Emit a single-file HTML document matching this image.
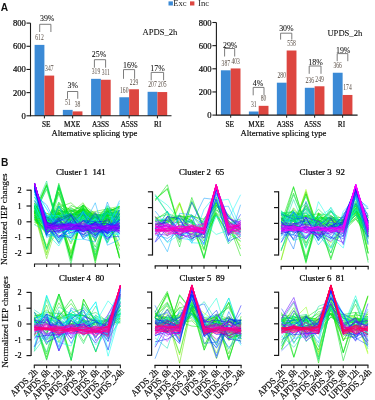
<!DOCTYPE html>
<html><head><meta charset="utf-8"><style>
html,body{margin:0;padding:0;background:#fff;width:375px;height:400px;overflow:hidden;}
svg{display:block;filter:blur(0.3px);font-family:"Liberation Serif", serif;}
</style></head><body>
<svg width="375" height="400" viewBox="0 0 375 400"><text x="0.80" y="11.20" font-size="10.2" text-anchor="start" fill="#111" font-weight="bold" font-family="Liberation Sans" >A</text>
<rect x="168.50" y="1.40" width="4.40" height="4.10" fill="#3b8ad6"/>
<text x="173.20" y="6.10" font-size="8.6" text-anchor="start" fill="#222" font-weight="normal" font-family="Liberation Serif" >Exc</text>
<rect x="190.00" y="1.40" width="4.40" height="4.10" fill="#dd4640"/>
<text x="198.10" y="6.10" font-size="8.6" text-anchor="start" fill="#222" font-weight="normal" font-family="Liberation Serif" >Inc</text>
<line x1="30.50" y1="23.10" x2="30.50" y2="116.30" stroke="#1a1a1a" stroke-width="1.1"/>
<line x1="26.50" y1="115.80" x2="30.50" y2="115.80" stroke="#1a1a1a" stroke-width="1.1"/>
<text x="25.80" y="118.80" font-size="8.6" text-anchor="end" fill="#111" font-weight="normal" font-family="Liberation Serif" stroke="#000" stroke-width="0.22">0</text>
<line x1="26.50" y1="92.62" x2="30.50" y2="92.62" stroke="#1a1a1a" stroke-width="1.1"/>
<text x="25.80" y="95.62" font-size="8.6" text-anchor="end" fill="#111" font-weight="normal" font-family="Liberation Serif" stroke="#000" stroke-width="0.22">200</text>
<line x1="26.50" y1="69.45" x2="30.50" y2="69.45" stroke="#1a1a1a" stroke-width="1.1"/>
<text x="25.80" y="72.45" font-size="8.6" text-anchor="end" fill="#111" font-weight="normal" font-family="Liberation Serif" stroke="#000" stroke-width="0.22">400</text>
<line x1="26.50" y1="46.28" x2="30.50" y2="46.28" stroke="#1a1a1a" stroke-width="1.1"/>
<text x="25.80" y="49.28" font-size="8.6" text-anchor="end" fill="#111" font-weight="normal" font-family="Liberation Serif" stroke="#000" stroke-width="0.22">600</text>
<line x1="26.50" y1="23.10" x2="30.50" y2="23.10" stroke="#1a1a1a" stroke-width="1.1"/>
<text x="25.80" y="26.10" font-size="8.6" text-anchor="end" fill="#111" font-weight="normal" font-family="Liberation Serif" stroke="#000" stroke-width="0.22">800</text>
<rect x="34.60" y="44.88" width="9.80" height="70.92" fill="#3b8ad6"/>
<rect x="44.40" y="75.59" width="9.80" height="40.21" fill="#dd4640"/>
<rect x="62.85" y="109.89" width="9.80" height="5.91" fill="#3b8ad6"/>
<rect x="72.65" y="111.40" width="9.80" height="4.40" fill="#dd4640"/>
<rect x="91.10" y="78.84" width="9.80" height="36.96" fill="#3b8ad6"/>
<rect x="100.90" y="79.76" width="9.80" height="36.04" fill="#dd4640"/>
<rect x="119.35" y="97.26" width="9.80" height="18.54" fill="#3b8ad6"/>
<rect x="129.15" y="89.26" width="9.80" height="26.54" fill="#dd4640"/>
<rect x="147.60" y="91.81" width="9.80" height="23.99" fill="#3b8ad6"/>
<rect x="157.40" y="92.05" width="9.80" height="23.75" fill="#dd4640"/>
<line x1="30.50" y1="115.80" x2="171.50" y2="115.80" stroke="#1a1a1a" stroke-width="1.1"/>
<line x1="44.40" y1="115.80" x2="44.40" y2="118.40" stroke="#1a1a1a" stroke-width="1"/>
<line x1="72.65" y1="115.80" x2="72.65" y2="118.40" stroke="#1a1a1a" stroke-width="1"/>
<line x1="100.90" y1="115.80" x2="100.90" y2="118.40" stroke="#1a1a1a" stroke-width="1"/>
<line x1="129.15" y1="115.80" x2="129.15" y2="118.40" stroke="#1a1a1a" stroke-width="1"/>
<line x1="157.40" y1="115.80" x2="157.40" y2="118.40" stroke="#1a1a1a" stroke-width="1"/>
<text x="46.20" y="127.00" font-size="7.3" text-anchor="middle" fill="#111" font-weight="normal" font-family="Liberation Serif" stroke="#000" stroke-width="0.2">SE</text>
<text x="72.15" y="127.00" font-size="7.3" text-anchor="middle" fill="#111" font-weight="normal" font-family="Liberation Serif" stroke="#000" stroke-width="0.2">MXE</text>
<text x="100.55" y="127.00" font-size="7.3" text-anchor="middle" fill="#111" font-weight="normal" font-family="Liberation Serif" stroke="#000" stroke-width="0.2">A3SS</text>
<text x="129.25" y="127.00" font-size="7.3" text-anchor="middle" fill="#111" font-weight="normal" font-family="Liberation Serif" stroke="#000" stroke-width="0.2">A5SS</text>
<text x="157.70" y="127.00" font-size="7.3" text-anchor="middle" fill="#111" font-weight="normal" font-family="Liberation Serif" stroke="#000" stroke-width="0.2">RI</text>
<text x="94.40" y="135.70" font-size="8.7" text-anchor="middle" fill="#111" font-weight="normal" font-family="Liberation Serif" stroke="#000" stroke-width="0.2">Alternative splicing type</text>
<text x="142.50" y="35.00" font-size="8.6" text-anchor="start" fill="#111" font-weight="normal" font-family="Liberation Serif" stroke="#000" stroke-width="0.08">APDS_2h</text>
<text x="47.20" y="20.80" font-size="7.9" text-anchor="middle" fill="#111" font-weight="normal" font-family="Liberation Serif" stroke="#000" stroke-width="0.06">39%</text>
<text x="72.80" y="88.10" font-size="7.9" text-anchor="middle" fill="#111" font-weight="normal" font-family="Liberation Serif" stroke="#000" stroke-width="0.06">3%</text>
<text x="99.00" y="57.10" font-size="7.9" text-anchor="middle" fill="#111" font-weight="normal" font-family="Liberation Serif" stroke="#000" stroke-width="0.06">25%</text>
<text x="130.30" y="67.50" font-size="7.9" text-anchor="middle" fill="#111" font-weight="normal" font-family="Liberation Serif" stroke="#000" stroke-width="0.06">16%</text>
<text x="157.50" y="70.70" font-size="7.9" text-anchor="middle" fill="#111" font-weight="normal" font-family="Liberation Serif" stroke="#000" stroke-width="0.06">17%</text>
<path d="M39.70,32.00 V24.30 H50.90 V32.00" fill="none" stroke="#666" stroke-width="0.85"/>
<path d="M67.50,98.75 V91.50 H77.75 V98.75" fill="none" stroke="#666" stroke-width="0.85"/>
<path d="M94.40,67.70 V59.70 H105.60 V67.70" fill="none" stroke="#666" stroke-width="0.85"/>
<path d="M123.50,78.80 V69.60 H134.60 V78.80" fill="none" stroke="#666" stroke-width="0.85"/>
<path d="M151.20,80.30 V72.40 H163.60 V80.30" fill="none" stroke="#666" stroke-width="0.85"/>
<text transform="translate(39.50,40.28) scale(0.78,1)" font-size="7.2" text-anchor="middle" fill="#54483f" font-family="Liberation Serif">612</text>
<text transform="translate(49.30,70.99) scale(0.78,1)" font-size="7.2" text-anchor="middle" fill="#54483f" font-family="Liberation Serif">347</text>
<text transform="translate(67.75,105.29) scale(0.78,1)" font-size="7.2" text-anchor="middle" fill="#54483f" font-family="Liberation Serif">51</text>
<text transform="translate(77.55,106.80) scale(0.78,1)" font-size="7.2" text-anchor="middle" fill="#54483f" font-family="Liberation Serif">38</text>
<text transform="translate(96.00,74.24) scale(0.78,1)" font-size="7.2" text-anchor="middle" fill="#54483f" font-family="Liberation Serif">319</text>
<text transform="translate(105.80,75.16) scale(0.78,1)" font-size="7.2" text-anchor="middle" fill="#54483f" font-family="Liberation Serif">311</text>
<text transform="translate(124.25,92.66) scale(0.78,1)" font-size="7.2" text-anchor="middle" fill="#54483f" font-family="Liberation Serif">160</text>
<text transform="translate(134.05,84.66) scale(0.78,1)" font-size="7.2" text-anchor="middle" fill="#54483f" font-family="Liberation Serif">229</text>
<text transform="translate(152.50,87.21) scale(0.78,1)" font-size="7.2" text-anchor="middle" fill="#54483f" font-family="Liberation Serif">207</text>
<text transform="translate(162.30,87.45) scale(0.78,1)" font-size="7.2" text-anchor="middle" fill="#54483f" font-family="Liberation Serif">205</text>
<line x1="216.40" y1="22.50" x2="216.40" y2="115.60" stroke="#1a1a1a" stroke-width="1.1"/>
<line x1="212.40" y1="115.10" x2="216.40" y2="115.10" stroke="#1a1a1a" stroke-width="1.1"/>
<text x="211.60" y="118.10" font-size="8.6" text-anchor="end" fill="#111" font-weight="normal" font-family="Liberation Serif" stroke="#000" stroke-width="0.22">0</text>
<line x1="212.40" y1="91.95" x2="216.40" y2="91.95" stroke="#1a1a1a" stroke-width="1.1"/>
<text x="211.60" y="94.95" font-size="8.6" text-anchor="end" fill="#111" font-weight="normal" font-family="Liberation Serif" stroke="#000" stroke-width="0.22">200</text>
<line x1="212.40" y1="68.80" x2="216.40" y2="68.80" stroke="#1a1a1a" stroke-width="1.1"/>
<text x="211.60" y="71.80" font-size="8.6" text-anchor="end" fill="#111" font-weight="normal" font-family="Liberation Serif" stroke="#000" stroke-width="0.22">400</text>
<line x1="212.40" y1="45.65" x2="216.40" y2="45.65" stroke="#1a1a1a" stroke-width="1.1"/>
<text x="211.60" y="48.65" font-size="8.6" text-anchor="end" fill="#111" font-weight="normal" font-family="Liberation Serif" stroke="#000" stroke-width="0.22">600</text>
<line x1="212.40" y1="22.50" x2="216.40" y2="22.50" stroke="#1a1a1a" stroke-width="1.1"/>
<text x="211.60" y="25.50" font-size="8.6" text-anchor="end" fill="#111" font-weight="normal" font-family="Liberation Serif" stroke="#000" stroke-width="0.22">800</text>
<rect x="220.90" y="70.30" width="9.80" height="44.80" fill="#3b8ad6"/>
<rect x="230.70" y="68.45" width="9.80" height="46.65" fill="#dd4640"/>
<rect x="248.88" y="111.51" width="9.80" height="3.59" fill="#3b8ad6"/>
<rect x="258.68" y="105.84" width="9.80" height="9.26" fill="#dd4640"/>
<rect x="276.86" y="82.69" width="9.80" height="32.41" fill="#3b8ad6"/>
<rect x="286.66" y="50.51" width="9.80" height="64.59" fill="#dd4640"/>
<rect x="304.84" y="87.78" width="9.80" height="27.32" fill="#3b8ad6"/>
<rect x="314.64" y="86.28" width="9.80" height="28.82" fill="#dd4640"/>
<rect x="332.82" y="72.74" width="9.80" height="42.36" fill="#3b8ad6"/>
<rect x="342.62" y="94.96" width="9.80" height="20.14" fill="#dd4640"/>
<line x1="216.40" y1="115.10" x2="357.60" y2="115.10" stroke="#1a1a1a" stroke-width="1.1"/>
<line x1="230.70" y1="115.10" x2="230.70" y2="117.70" stroke="#1a1a1a" stroke-width="1"/>
<line x1="258.68" y1="115.10" x2="258.68" y2="117.70" stroke="#1a1a1a" stroke-width="1"/>
<line x1="286.66" y1="115.10" x2="286.66" y2="117.70" stroke="#1a1a1a" stroke-width="1"/>
<line x1="314.64" y1="115.10" x2="314.64" y2="117.70" stroke="#1a1a1a" stroke-width="1"/>
<line x1="342.62" y1="115.10" x2="342.62" y2="117.70" stroke="#1a1a1a" stroke-width="1"/>
<text x="229.80" y="126.90" font-size="7.3" text-anchor="middle" fill="#111" font-weight="normal" font-family="Liberation Serif" stroke="#000" stroke-width="0.2">SE</text>
<text x="256.48" y="126.90" font-size="7.3" text-anchor="middle" fill="#111" font-weight="normal" font-family="Liberation Serif" stroke="#000" stroke-width="0.2">MXE</text>
<text x="285.16" y="126.90" font-size="7.3" text-anchor="middle" fill="#111" font-weight="normal" font-family="Liberation Serif" stroke="#000" stroke-width="0.2">A3SS</text>
<text x="312.44" y="126.90" font-size="7.3" text-anchor="middle" fill="#111" font-weight="normal" font-family="Liberation Serif" stroke="#000" stroke-width="0.2">A5SS</text>
<text x="341.52" y="126.90" font-size="7.3" text-anchor="middle" fill="#111" font-weight="normal" font-family="Liberation Serif" stroke="#000" stroke-width="0.2">RI</text>
<text x="283.50" y="136.40" font-size="8.7" text-anchor="middle" fill="#111" font-weight="normal" font-family="Liberation Serif" stroke="#000" stroke-width="0.2">Alternative splicing type</text>
<text x="327.40" y="35.50" font-size="8.6" text-anchor="start" fill="#111" font-weight="normal" font-family="Liberation Serif" stroke="#000" stroke-width="0.08">UPDS_2h</text>
<text x="230.20" y="48.00" font-size="7.9" text-anchor="middle" fill="#111" font-weight="normal" font-family="Liberation Serif" stroke="#000" stroke-width="0.06">29%</text>
<text x="258.00" y="86.30" font-size="7.9" text-anchor="middle" fill="#111" font-weight="normal" font-family="Liberation Serif" stroke="#000" stroke-width="0.06">4%</text>
<text x="286.40" y="31.20" font-size="7.9" text-anchor="middle" fill="#111" font-weight="normal" font-family="Liberation Serif" stroke="#000" stroke-width="0.06">30%</text>
<text x="315.50" y="64.80" font-size="7.9" text-anchor="middle" fill="#111" font-weight="normal" font-family="Liberation Serif" stroke="#000" stroke-width="0.06">18%</text>
<text x="343.20" y="52.80" font-size="7.9" text-anchor="middle" fill="#111" font-weight="normal" font-family="Liberation Serif" stroke="#000" stroke-width="0.06">19%</text>
<path d="M224.60,56.50 V48.50 H234.70 V56.50" fill="none" stroke="#666" stroke-width="0.85"/>
<path d="M253.20,95.30 V87.40 H264.00 V95.30" fill="none" stroke="#666" stroke-width="0.85"/>
<path d="M280.60,39.60 V33.20 H291.80 V39.60" fill="none" stroke="#666" stroke-width="0.85"/>
<path d="M309.20,73.80 V66.00 H321.00 V73.80" fill="none" stroke="#666" stroke-width="0.85"/>
<path d="M337.20,61.20 V53.60 H347.80 V61.20" fill="none" stroke="#666" stroke-width="0.85"/>
<text transform="translate(225.80,65.70) scale(0.78,1)" font-size="7.2" text-anchor="middle" fill="#54483f" font-family="Liberation Serif">387</text>
<text transform="translate(235.60,63.85) scale(0.78,1)" font-size="7.2" text-anchor="middle" fill="#54483f" font-family="Liberation Serif">403</text>
<text transform="translate(253.78,106.91) scale(0.78,1)" font-size="7.2" text-anchor="middle" fill="#54483f" font-family="Liberation Serif">31</text>
<text transform="translate(263.58,101.24) scale(0.78,1)" font-size="7.2" text-anchor="middle" fill="#54483f" font-family="Liberation Serif">80</text>
<text transform="translate(281.76,78.09) scale(0.78,1)" font-size="7.2" text-anchor="middle" fill="#54483f" font-family="Liberation Serif">280</text>
<text transform="translate(291.56,45.91) scale(0.78,1)" font-size="7.2" text-anchor="middle" fill="#54483f" font-family="Liberation Serif">558</text>
<text transform="translate(309.74,83.18) scale(0.78,1)" font-size="7.2" text-anchor="middle" fill="#54483f" font-family="Liberation Serif">236</text>
<text transform="translate(319.54,81.68) scale(0.78,1)" font-size="7.2" text-anchor="middle" fill="#54483f" font-family="Liberation Serif">249</text>
<text transform="translate(337.72,68.14) scale(0.78,1)" font-size="7.2" text-anchor="middle" fill="#54483f" font-family="Liberation Serif">366</text>
<text transform="translate(347.52,90.36) scale(0.78,1)" font-size="7.2" text-anchor="middle" fill="#54483f" font-family="Liberation Serif">174</text>
<text x="1.10" y="166.40" font-size="10.2" text-anchor="start" fill="#111" font-weight="bold" font-family="Liberation Sans" >B</text>
<text x="80.80" y="175.20" font-size="8.8" text-anchor="middle" fill="#000" font-weight="normal" font-family="Liberation Serif" stroke="#000" stroke-width="0.22" xml:space="preserve">Cluster 1  141</text>
<line x1="31.10" y1="189.70" x2="31.10" y2="253.90" stroke="#1a1a1a" stroke-width="1.2"/>
<line x1="26.50" y1="190.20" x2="31.10" y2="190.20" stroke="#1a1a1a" stroke-width="1.2"/>
<text x="21.70" y="192.90" font-size="8.2" text-anchor="end" fill="#000" font-weight="normal" font-family="Liberation Serif" stroke="#000" stroke-width="0.2">2</text>
<line x1="26.50" y1="206.00" x2="31.10" y2="206.00" stroke="#1a1a1a" stroke-width="1.2"/>
<text x="21.70" y="208.70" font-size="8.2" text-anchor="end" fill="#000" font-weight="normal" font-family="Liberation Serif" stroke="#000" stroke-width="0.2">1</text>
<line x1="26.50" y1="221.80" x2="31.10" y2="221.80" stroke="#1a1a1a" stroke-width="1.2"/>
<text x="21.70" y="224.50" font-size="8.2" text-anchor="end" fill="#000" font-weight="normal" font-family="Liberation Serif" stroke="#000" stroke-width="0.2">0</text>
<line x1="26.50" y1="237.60" x2="31.10" y2="237.60" stroke="#1a1a1a" stroke-width="1.2"/>
<text x="21.70" y="240.30" font-size="8.2" text-anchor="end" fill="#000" font-weight="normal" font-family="Liberation Serif" stroke="#000" stroke-width="0.2">-1</text>
<line x1="26.50" y1="253.40" x2="31.10" y2="253.40" stroke="#1a1a1a" stroke-width="1.2"/>
<text x="21.70" y="256.10" font-size="8.2" text-anchor="end" fill="#000" font-weight="normal" font-family="Liberation Serif" stroke="#000" stroke-width="0.2">-2</text>
<g>
<polyline points="34.50,212.47 46.65,223.88 58.80,223.08 70.95,217.51 83.10,216.75 95.25,224.76 107.40,220.05 119.55,246.42" fill="none" stroke="#93ff00" stroke-width="0.7" stroke-opacity="0.7"/>
<polyline points="34.50,212.24 46.65,216.31 58.80,209.48 70.95,222.42 83.10,216.16 95.25,228.80 107.40,209.35 119.55,211.21" fill="none" stroke="#91ff00" stroke-width="0.7" stroke-opacity="0.7"/>
<polyline points="34.50,219.31 46.65,218.28 58.80,217.61 70.95,219.34 83.10,212.65 95.25,226.51 107.40,214.98 119.55,207.40" fill="none" stroke="#89ff00" stroke-width="0.7" stroke-opacity="0.7"/>
<polyline points="34.50,216.90 46.65,245.16 58.80,232.97 70.95,226.62 83.10,218.67 95.25,217.79 107.40,222.90 119.55,222.31" fill="none" stroke="#85ff00" stroke-width="0.7" stroke-opacity="0.7"/>
<polyline points="34.50,211.82 46.65,252.79 58.80,212.54 70.95,214.51 83.10,209.82 95.25,222.39 107.40,218.97 119.55,215.40" fill="none" stroke="#81ff00" stroke-width="0.7" stroke-opacity="0.75"/>
<polyline points="34.50,215.49 46.65,217.07 58.80,217.51 70.95,251.41 83.10,218.87 95.25,223.53 107.40,218.84 119.55,215.73" fill="none" stroke="#63e000" stroke-width="0.7" stroke-opacity="0.7"/>
<polyline points="34.50,213.11 46.65,254.94 58.80,210.28 70.95,214.20 83.10,210.73 95.25,214.17 107.40,217.73 119.55,217.56" fill="none" stroke="#5de000" stroke-width="0.7" stroke-opacity="0.75"/>
<polyline points="34.50,213.74 46.65,258.65 58.80,218.22 70.95,213.85 83.10,213.21 95.25,216.87 107.40,223.55 119.55,214.55" fill="none" stroke="#5de000" stroke-width="0.7" stroke-opacity="0.7"/>
<polyline points="34.50,207.05 46.65,217.93 58.80,218.96 70.95,214.89 83.10,214.86 95.25,241.08 107.40,214.41 119.55,228.91" fill="none" stroke="#5ce000" stroke-width="0.7" stroke-opacity="0.7"/>
<polyline points="34.50,216.31 46.65,226.24 58.80,215.73 70.95,217.29 83.10,213.79 95.25,251.81 107.40,211.28 119.55,222.26" fill="none" stroke="#5be000" stroke-width="0.7" stroke-opacity="0.7"/>
<polyline points="34.50,208.34 46.65,218.11 58.80,211.51 70.95,211.04 83.10,215.75 95.25,227.90 107.40,214.22 119.55,217.40" fill="none" stroke="#5be000" stroke-width="0.7" stroke-opacity="0.7"/>
<polyline points="34.50,206.28 46.65,213.39 58.80,215.91 70.95,218.17 83.10,219.95 95.25,224.57 107.40,214.47 119.55,246.08" fill="none" stroke="#47e000" stroke-width="0.7" stroke-opacity="0.7"/>
<polyline points="34.50,218.64 46.65,224.16 58.80,221.91 70.95,212.91 83.10,202.78 95.25,222.88 107.40,208.89 119.55,206.31" fill="none" stroke="#44e000" stroke-width="0.7" stroke-opacity="0.7"/>
<polyline points="34.50,208.81 46.65,213.41 58.80,219.71 70.95,243.96 83.10,217.17 95.25,225.92 107.40,223.40 119.55,216.77" fill="none" stroke="#43e000" stroke-width="0.7" stroke-opacity="0.7"/>
<polyline points="34.50,212.78 46.65,247.91 58.80,202.84 70.95,210.12 83.10,214.27 95.25,217.28 107.40,221.25 119.55,219.66" fill="none" stroke="#40e000" stroke-width="0.7" stroke-opacity="0.7"/>
<polyline points="34.50,217.40 46.65,232.47 58.80,220.86 70.95,216.25 83.10,209.00 95.25,214.42 107.40,218.72 119.55,211.81" fill="none" stroke="#39e000" stroke-width="0.7" stroke-opacity="0.7"/>
<polyline points="34.50,216.75 46.65,223.63 58.80,212.51 70.95,221.35 83.10,208.87 95.25,217.63 107.40,207.92 119.55,212.63" fill="none" stroke="#34e000" stroke-width="0.7" stroke-opacity="0.7"/>
<polyline points="34.50,219.20 46.65,229.81 58.80,192.05 70.95,231.54 83.10,215.00 95.25,223.09 107.40,217.67 119.55,220.16" fill="none" stroke="#2fe000" stroke-width="0.7" stroke-opacity="0.7"/>
<polyline points="34.50,207.69 46.65,225.55 58.80,213.48 70.95,253.35 83.10,208.77 95.25,213.00 107.40,224.60 119.55,219.35" fill="none" stroke="#2ee000" stroke-width="0.7" stroke-opacity="0.7"/>
<polyline points="34.50,206.72 46.65,222.63 58.80,207.45 70.95,202.77 83.10,213.92 95.25,211.53 107.40,208.87 119.55,214.12" fill="none" stroke="#2ce000" stroke-width="0.7" stroke-opacity="0.7"/>
<polyline points="34.50,221.84 46.65,224.85 58.80,220.79 70.95,225.50 83.10,205.01 95.25,213.46 107.40,210.83 119.55,208.41" fill="none" stroke="#29e000" stroke-width="0.7" stroke-opacity="0.7"/>
<polyline points="34.50,211.80 46.65,226.63 58.80,205.55 70.95,214.97 83.10,212.99 95.25,214.33 107.40,216.05 119.55,211.28" fill="none" stroke="#23e000" stroke-width="0.7" stroke-opacity="0.75"/>
<polyline points="34.50,211.76 46.65,227.24 58.80,204.08 70.95,210.64 83.10,211.63 95.25,221.39 107.40,206.09 119.55,213.94" fill="none" stroke="#23e000" stroke-width="0.7" stroke-opacity="0.7"/>
<polyline points="34.50,213.32 46.65,184.95 58.80,227.60 70.95,212.04 83.10,229.18 95.25,219.53 107.40,224.86 119.55,220.27" fill="none" stroke="#22e000" stroke-width="0.7" stroke-opacity="0.75"/>
<polyline points="34.50,219.68 46.65,222.29 58.80,216.27 70.95,216.93 83.10,206.69 95.25,216.85 107.40,213.09 119.55,206.32" fill="none" stroke="#21e000" stroke-width="0.7" stroke-opacity="0.75"/>
<polyline points="34.50,206.28 46.65,222.74 58.80,212.73 70.95,207.53 83.10,214.84 95.25,217.76 107.40,213.92 119.55,258.20" fill="none" stroke="#1fe000" stroke-width="0.7" stroke-opacity="0.75"/>
<polyline points="34.50,208.05 46.65,221.09 58.80,213.90 70.95,254.53 83.10,212.77 95.25,226.06 107.40,210.86 119.55,214.18" fill="none" stroke="#1de000" stroke-width="0.7" stroke-opacity="0.75"/>
<polyline points="34.50,210.22 46.65,248.67 58.80,213.84 70.95,208.61 83.10,214.40 95.25,213.95 107.40,224.34 119.55,218.10" fill="none" stroke="#17e000" stroke-width="0.7" stroke-opacity="0.7"/>
<polyline points="34.50,217.51 46.65,220.10 58.80,219.34 70.95,215.11 83.10,214.71 95.25,217.84 107.40,224.48 119.55,220.39" fill="none" stroke="#17e000" stroke-width="0.7" stroke-opacity="0.7"/>
<polyline points="34.50,216.83 46.65,231.20 58.80,186.66 70.95,223.55 83.10,211.79 95.25,230.52 107.40,219.00 119.55,226.39" fill="none" stroke="#17e000" stroke-width="0.7" stroke-opacity="0.75"/>
<polyline points="34.50,213.64 46.65,221.87 58.80,213.49 70.95,216.28 83.10,208.77 95.25,259.50 107.40,215.10 119.55,217.13" fill="none" stroke="#15e000" stroke-width="0.7" stroke-opacity="0.75"/>
<polyline points="34.50,220.78 46.65,231.97 58.80,188.18 70.95,230.74 83.10,208.59 95.25,231.21 107.40,214.06 119.55,224.96" fill="none" stroke="#14e000" stroke-width="0.7" stroke-opacity="0.7"/>
<polyline points="34.50,218.98 46.65,229.50 58.80,184.86 70.95,222.84 83.10,214.72 95.25,234.79 107.40,217.32 119.55,229.18" fill="none" stroke="#13e000" stroke-width="0.7" stroke-opacity="0.75"/>
<polyline points="34.50,203.36 46.65,226.87 58.80,242.14 70.95,222.78 83.10,231.32 95.25,220.03 107.40,242.84 119.55,213.51" fill="none" stroke="#10e000" stroke-width="0.7" stroke-opacity="0.7"/>
<polyline points="34.50,217.64 46.65,221.18 58.80,218.83 70.95,215.23 83.10,207.66 95.25,221.31 107.40,212.09 119.55,206.42" fill="none" stroke="#0fe000" stroke-width="0.7" stroke-opacity="0.75"/>
<polyline points="34.50,203.53 46.65,230.52 58.80,227.84 70.95,223.40 83.10,217.07 95.25,233.85 107.40,220.07 119.55,219.09" fill="none" stroke="#0ee000" stroke-width="0.7" stroke-opacity="0.7"/>
<polyline points="34.50,211.14 46.65,222.21 58.80,192.39 70.95,224.42 83.10,210.45 95.25,225.25 107.40,221.97 119.55,225.46" fill="none" stroke="#0ce000" stroke-width="0.7" stroke-opacity="0.7"/>
<polyline points="34.50,206.41 46.65,219.84 58.80,219.27 70.95,205.51 83.10,210.23 95.25,221.34 107.40,214.17 119.55,257.93" fill="none" stroke="#0ae000" stroke-width="0.7" stroke-opacity="0.75"/>
<polyline points="34.50,215.39 46.65,221.25 58.80,212.24 70.95,210.75 83.10,206.07 95.25,257.64 107.40,213.72 119.55,218.94" fill="none" stroke="#08e000" stroke-width="0.7" stroke-opacity="0.75"/>
<polyline points="34.50,222.45 46.65,217.51 58.80,216.91 70.95,220.71 83.10,204.53 95.25,219.48 107.40,211.55 119.55,206.80" fill="none" stroke="#08e000" stroke-width="0.7" stroke-opacity="0.75"/>
<polyline points="34.50,207.18 46.65,221.31 58.80,214.15 70.95,210.04 83.10,218.75 95.25,218.54 107.40,216.15 119.55,255.51" fill="none" stroke="#08e000" stroke-width="0.7" stroke-opacity="0.75"/>
<polyline points="34.50,211.62 46.65,185.39 58.80,226.82 70.95,218.81 83.10,226.93 95.25,219.78 107.40,228.28 119.55,221.71" fill="none" stroke="#07e000" stroke-width="0.7" stroke-opacity="0.75"/>
<polyline points="34.50,205.00 46.65,218.90 58.80,217.11 70.95,257.80 83.10,209.61 95.25,218.20 107.40,212.24 119.55,220.19" fill="none" stroke="#05e000" stroke-width="0.7" stroke-opacity="0.75"/>
<polyline points="34.50,224.59 46.65,217.73 58.80,215.50 70.95,215.71 83.10,220.21 95.25,241.41 107.40,207.99 119.55,226.06" fill="none" stroke="#00e000" stroke-width="0.7" stroke-opacity="0.7"/>
<polyline points="34.50,211.16 46.65,219.40 58.80,217.73 70.95,258.12 83.10,211.82 95.25,222.81 107.40,208.87 119.55,220.35" fill="none" stroke="#00e000" stroke-width="0.7" stroke-opacity="0.75"/>
<polyline points="34.50,213.54 46.65,189.37 58.80,227.72 70.95,216.80 83.10,229.45 95.25,220.26 107.40,229.87 119.55,224.04" fill="none" stroke="#00e000" stroke-width="0.7" stroke-opacity="0.75"/>
<polyline points="34.50,216.03 46.65,222.73 58.80,210.04 70.95,215.11 83.10,210.36 95.25,263.21 107.40,212.32 119.55,216.51" fill="none" stroke="#00e001" stroke-width="0.7" stroke-opacity="0.75"/>
<polyline points="34.50,214.17 46.65,186.07 58.80,228.10 70.95,217.71 83.10,223.47 95.25,216.25 107.40,236.13 119.55,226.28" fill="none" stroke="#00e003" stroke-width="0.7" stroke-opacity="0.75"/>
<polyline points="34.50,211.50 46.65,183.51 58.80,227.34 70.95,220.15 83.10,224.39 95.25,217.58 107.40,230.97 119.55,220.42" fill="none" stroke="#00e003" stroke-width="0.7" stroke-opacity="0.75"/>
<polyline points="34.50,203.15 46.65,222.52 58.80,217.76 70.95,211.13 83.10,213.85 95.25,219.21 107.40,213.66 119.55,258.46" fill="none" stroke="#00e005" stroke-width="0.7" stroke-opacity="0.75"/>
<polyline points="34.50,208.88 46.65,229.60 58.80,206.79 70.95,219.72 83.10,204.97 95.25,217.14 107.40,215.63 119.55,210.28" fill="none" stroke="#00e009" stroke-width="0.7" stroke-opacity="0.75"/>
<polyline points="34.50,211.85 46.65,225.80 58.80,208.50 70.95,215.78 83.10,218.71 95.25,219.94 107.40,211.94 119.55,214.98" fill="none" stroke="#00e00c" stroke-width="0.7" stroke-opacity="0.7"/>
<polyline points="34.50,205.14 46.65,217.82 58.80,212.56 70.95,260.79 83.10,205.73 95.25,217.79 107.40,220.70 119.55,213.19" fill="none" stroke="#00e00e" stroke-width="0.7" stroke-opacity="0.7"/>
<polyline points="34.50,216.60 46.65,235.15 58.80,188.29 70.95,222.87 83.10,212.29 95.25,232.80 107.40,217.06 119.55,227.06" fill="none" stroke="#00e00e" stroke-width="0.7" stroke-opacity="0.75"/>
<polyline points="34.50,214.98 46.65,233.82 58.80,183.29 70.95,225.01 83.10,216.86 95.25,232.02 107.40,216.93 119.55,227.47" fill="none" stroke="#00e010" stroke-width="0.7" stroke-opacity="0.75"/>
<polyline points="34.50,205.29 46.65,231.61 58.80,220.20 70.95,214.71 83.10,215.44 95.25,222.63 107.40,217.41 119.55,207.98" fill="none" stroke="#00e011" stroke-width="0.7" stroke-opacity="0.7"/>
<polyline points="34.50,212.12 46.65,217.24 58.80,217.47 70.95,259.34 83.10,209.99 95.25,218.96 107.40,213.28 119.55,219.56" fill="none" stroke="#00e013" stroke-width="0.7" stroke-opacity="0.75"/>
<polyline points="34.50,207.00 46.65,229.89 58.80,205.97 70.95,215.01 83.10,214.38 95.25,215.30 107.40,212.85 119.55,212.86" fill="none" stroke="#00e018" stroke-width="0.7" stroke-opacity="0.75"/>
<polyline points="34.50,219.89 46.65,224.80 58.80,214.25 70.95,219.77 83.10,207.77 95.25,217.79 107.40,211.37 119.55,206.95" fill="none" stroke="#00e019" stroke-width="0.7" stroke-opacity="0.75"/>
<polyline points="34.50,212.69 46.65,222.80 58.80,214.44 70.95,211.31 83.10,210.07 95.25,260.89 107.40,210.34 119.55,220.04" fill="none" stroke="#00e019" stroke-width="0.7" stroke-opacity="0.75"/>
<polyline points="34.50,206.11 46.65,232.29 58.80,210.02 70.95,213.81 83.10,215.55 95.25,215.41 107.40,214.03 119.55,210.19" fill="none" stroke="#00e01c" stroke-width="0.7" stroke-opacity="0.75"/>
<polyline points="34.50,219.68 46.65,230.81 58.80,186.57 70.95,224.40 83.10,212.10 95.25,235.19 107.40,216.46 119.55,225.22" fill="none" stroke="#00e01d" stroke-width="0.7" stroke-opacity="0.75"/>
<polyline points="34.50,205.70 46.65,222.60 58.80,226.96 70.95,225.16 83.10,221.46 95.25,247.08 107.40,215.11 119.55,217.44" fill="none" stroke="#00e01f" stroke-width="0.7" stroke-opacity="0.7"/>
<polyline points="34.50,205.81 46.65,222.74 58.80,212.65 70.95,219.68 83.10,220.51 95.25,222.13 107.40,217.22 119.55,250.24" fill="none" stroke="#00e024" stroke-width="0.7" stroke-opacity="0.7"/>
<polyline points="34.50,207.43 46.65,228.97 58.80,224.66 70.95,220.03 83.10,215.23 95.25,255.60 107.40,211.00 119.55,217.98" fill="none" stroke="#00e032" stroke-width="0.7" stroke-opacity="0.7"/>
<polyline points="34.50,215.39 46.65,218.81 58.80,224.79 70.95,217.80 83.10,217.62 95.25,218.05 107.40,213.51 119.55,218.79" fill="none" stroke="#00e037" stroke-width="0.7" stroke-opacity="0.7"/>
<polyline points="34.50,200.79 46.65,224.04 58.80,216.93 70.95,264.13 83.10,209.71 95.25,218.37 107.40,213.14 119.55,219.97" fill="none" stroke="#00e038" stroke-width="0.7" stroke-opacity="0.7"/>
<polyline points="34.50,208.75 46.65,230.75 58.80,215.08 70.95,216.63 83.10,208.03 95.25,226.20 107.40,215.51 119.55,222.91" fill="none" stroke="#00e03a" stroke-width="0.7" stroke-opacity="0.7"/>
<polyline points="34.50,207.94 46.65,228.33 58.80,215.17 70.95,212.77 83.10,205.19 95.25,254.48 107.40,218.84 119.55,214.15" fill="none" stroke="#00e03a" stroke-width="0.7" stroke-opacity="0.7"/>
<polyline points="34.50,206.30 46.65,235.02 58.80,194.06 70.95,228.48 83.10,220.20 95.25,226.62 107.40,214.03 119.55,222.38" fill="none" stroke="#00e050" stroke-width="0.7" stroke-opacity="0.7"/>
<polyline points="34.50,205.92 46.65,249.07 58.80,209.76 70.95,220.34 83.10,210.86 95.25,218.85 107.40,214.41 119.55,214.89" fill="none" stroke="#00e053" stroke-width="0.7" stroke-opacity="0.7"/>
<polyline points="34.50,210.68 46.65,226.66 58.80,215.67 70.95,224.13 83.10,210.46 95.25,225.84 107.40,209.75 119.55,211.79" fill="none" stroke="#00e057" stroke-width="0.7" stroke-opacity="0.7"/>
<polyline points="34.50,220.10 46.65,225.35 58.80,202.00 70.95,229.38 83.10,215.52 95.25,235.73 107.40,220.81 119.55,228.79" fill="none" stroke="#00e05e" stroke-width="0.7" stroke-opacity="0.7"/>
<polyline points="34.50,190.49 46.65,221.62 58.80,221.34 70.95,213.76 83.10,213.00 95.25,218.00 107.40,219.67 119.55,238.60" fill="none" stroke="#00e062" stroke-width="0.7" stroke-opacity="0.7"/>
<polyline points="34.50,210.45 46.65,225.07 58.80,239.56 70.95,225.76 83.10,236.50 95.25,219.57 107.40,242.22 119.55,216.61" fill="none" stroke="#00e069" stroke-width="0.7" stroke-opacity="0.7"/>
<polyline points="34.50,206.99 46.65,232.94 58.80,222.81 70.95,242.21 83.10,211.21 95.25,216.38 107.40,217.05 119.55,218.35" fill="none" stroke="#00e07e" stroke-width="0.7" stroke-opacity="0.7"/>
<polyline points="34.50,197.03 46.65,220.78 58.80,207.83 70.95,217.70 83.10,212.89 95.25,221.92 107.40,213.75 119.55,213.51" fill="none" stroke="#00e081" stroke-width="0.7" stroke-opacity="0.7"/>
<polyline points="34.50,209.42 46.65,181.04 58.80,231.91 70.95,224.34 83.10,235.32 95.25,226.77 107.40,232.63 119.55,217.33" fill="none" stroke="#00e087" stroke-width="0.7" stroke-opacity="0.7"/>
<polyline points="34.50,207.22 46.65,249.93 58.80,219.67 70.95,216.74 83.10,219.17 95.25,215.67 107.40,213.53 119.55,214.87" fill="none" stroke="#00e092" stroke-width="0.7" stroke-opacity="0.7"/>
<polyline points="34.50,212.66 46.65,221.87 58.80,221.17 70.95,217.54 83.10,224.52 95.25,219.93 107.40,217.58 119.55,220.89" fill="none" stroke="#00e093" stroke-width="0.7" stroke-opacity="0.7"/>
<polyline points="34.50,224.76 46.65,231.16 58.80,185.12 70.95,230.88 83.10,216.05 95.25,235.40 107.40,217.79 119.55,222.22" fill="none" stroke="#00e094" stroke-width="0.7" stroke-opacity="0.7"/>
<polyline points="34.50,218.58 46.65,216.01 58.80,215.67 70.95,224.03 83.10,219.68 95.25,239.51 107.40,207.55 119.55,218.33" fill="none" stroke="#00e099" stroke-width="0.7" stroke-opacity="0.7"/>
<polyline points="34.50,218.55 46.65,186.72 58.80,227.11 70.95,220.11 83.10,228.54 95.25,218.23 107.40,233.46 119.55,225.95" fill="none" stroke="#00e0a0" stroke-width="0.7" stroke-opacity="0.7"/>
<polyline points="34.50,197.26 46.65,215.31 58.80,222.89 70.95,208.30 83.10,229.88 95.25,249.99 107.40,221.23 119.55,229.53" fill="none" stroke="#00e0ba" stroke-width="0.7" stroke-opacity="0.7"/>
<polyline points="34.50,204.44 46.65,233.00 58.80,246.03 70.95,223.87 83.10,227.33 95.25,218.30 107.40,232.59 119.55,213.58" fill="none" stroke="#00ffd6" stroke-width="0.7" stroke-opacity="0.75"/>
<polyline points="34.50,193.97 46.65,227.26 58.80,205.86 70.95,239.20 83.10,216.93 95.25,233.33 107.40,236.92 119.55,220.93" fill="none" stroke="#00ffd7" stroke-width="0.7" stroke-opacity="0.7"/>
<polyline points="34.50,191.40 46.65,226.28 58.80,223.76 70.95,234.58 83.10,227.22 95.25,226.42 107.40,205.27 119.55,239.47" fill="none" stroke="#00ffda" stroke-width="0.7" stroke-opacity="0.7"/>
<polyline points="34.50,204.70 46.65,228.12 58.80,241.27 70.95,222.53 83.10,231.10 95.25,219.01 107.40,235.58 119.55,215.56" fill="none" stroke="#00ffe0" stroke-width="0.7" stroke-opacity="0.75"/>
<polyline points="34.50,192.11 46.65,216.23 58.80,215.53 70.95,236.36 83.10,211.39 95.25,232.42 107.40,236.61 119.55,233.76" fill="none" stroke="#00ffef" stroke-width="0.7" stroke-opacity="0.7"/>
<polyline points="34.50,196.68 46.65,214.42 58.80,226.22 70.95,239.41 83.10,239.33 95.25,227.63 107.40,227.76 119.55,202.95" fill="none" stroke="#00fffc" stroke-width="0.7" stroke-opacity="0.7"/>
<polyline points="34.50,188.82 46.65,209.31 58.80,222.27 70.95,233.72 83.10,230.92 95.25,222.18 107.40,233.09 119.55,234.08" fill="none" stroke="#00fcff" stroke-width="0.7" stroke-opacity="0.7"/>
<polyline points="34.50,191.24 46.65,208.55 58.80,233.69 70.95,225.79 83.10,225.36 95.25,224.16 107.40,243.31 119.55,222.30" fill="none" stroke="#00f4ff" stroke-width="0.7" stroke-opacity="0.7"/>
<polyline points="34.50,184.08 46.65,224.47 58.80,232.57 70.95,230.44 83.10,231.12 95.25,224.27 107.40,227.38 119.55,220.07" fill="none" stroke="#00edff" stroke-width="0.7" stroke-opacity="0.7"/>
<polyline points="34.50,188.03 46.65,233.77 58.80,237.63 70.95,229.22 83.10,211.69 95.25,225.14 107.40,228.36 119.55,220.56" fill="none" stroke="#00e2ff" stroke-width="0.7" stroke-opacity="0.7"/>
<polyline points="34.50,192.09 46.65,219.11 58.80,238.38 70.95,235.37 83.10,229.42 95.25,219.21 107.40,233.25 119.55,207.57" fill="none" stroke="#00d4ff" stroke-width="0.7" stroke-opacity="0.7"/>
<polyline points="34.50,185.36 46.65,233.82 58.80,222.61 70.95,230.81 83.10,225.13 95.25,226.40 107.40,233.47 119.55,216.81" fill="none" stroke="#00c4ff" stroke-width="0.7" stroke-opacity="0.7"/>
<polyline points="34.50,189.62 46.65,230.82 58.80,216.12 70.95,213.64 83.10,238.83 95.25,224.53 107.40,236.96 119.55,223.88" fill="none" stroke="#00bbff" stroke-width="0.7" stroke-opacity="0.7"/>
<polyline points="34.50,201.52 46.65,223.40 58.80,243.88 70.95,224.42 83.10,213.67 95.25,238.44 107.40,228.51 119.55,200.57" fill="none" stroke="#00b6ff" stroke-width="0.7" stroke-opacity="0.7"/>
<polyline points="34.50,188.28 46.65,226.24 58.80,231.17 70.95,218.77 83.10,238.51 95.25,230.91 107.40,211.88 119.55,228.63" fill="none" stroke="#00b2ff" stroke-width="0.7" stroke-opacity="0.7"/>
<polyline points="34.50,186.46 46.65,216.07 58.80,222.23 70.95,229.06 83.10,234.82 95.25,236.95 107.40,224.34 119.55,224.48" fill="none" stroke="#00b0ff" stroke-width="0.7" stroke-opacity="0.7"/>
<polyline points="34.50,199.77 46.65,219.66 58.80,218.66 70.95,222.38 83.10,226.37 95.25,202.77 107.40,245.23 119.55,239.55" fill="none" stroke="#00acff" stroke-width="0.7" stroke-opacity="0.7"/>
<polyline points="34.50,189.89 46.65,226.97 58.80,239.85 70.95,224.18 83.10,219.21 95.25,233.66 107.40,230.78 119.55,209.84" fill="none" stroke="#00a7ff" stroke-width="0.7" stroke-opacity="0.7"/>
<polyline points="34.50,200.39 46.65,217.72 58.80,221.36 70.95,217.38 83.10,239.03 95.25,242.06 107.40,202.10 119.55,234.35" fill="none" stroke="#0096ff" stroke-width="0.7" stroke-opacity="0.7"/>
<polyline points="34.50,187.88 46.65,237.51 58.80,231.76 70.95,227.40 83.10,213.41 95.25,223.00 107.40,233.77 119.55,219.67" fill="none" stroke="#0095ff" stroke-width="0.7" stroke-opacity="0.7"/>
<polyline points="34.50,194.55 46.65,204.99 58.80,228.50 70.95,238.21 83.10,226.44 95.25,216.25 107.40,240.39 119.55,225.05" fill="none" stroke="#0086ff" stroke-width="0.7" stroke-opacity="0.7"/>
<polyline points="34.50,189.82 46.65,236.27 58.80,206.00 70.95,228.32 83.10,227.90 95.25,223.66 107.40,229.57 119.55,232.85" fill="none" stroke="#0084ff" stroke-width="0.7" stroke-opacity="0.7"/>
<polyline points="34.50,184.85 46.65,218.07 58.80,227.87 70.95,229.68 83.10,220.39 95.25,231.27 107.40,232.49 119.55,229.76" fill="none" stroke="#0075ff" stroke-width="0.7" stroke-opacity="0.7"/>
<polyline points="34.50,185.93 46.65,217.34 58.80,225.80 70.95,221.84 83.10,231.18 95.25,227.17 107.40,238.76 119.55,226.37" fill="none" stroke="#0073ff" stroke-width="0.7" stroke-opacity="0.7"/>
<polyline points="34.50,188.03 46.65,236.14 58.80,229.00 70.95,221.39 83.10,211.60 95.25,235.72 107.40,223.87 119.55,228.65" fill="none" stroke="#0063ff" stroke-width="0.7" stroke-opacity="0.7"/>
<polyline points="34.50,190.54 46.65,229.29 58.80,237.19 70.95,232.38 83.10,228.94 95.25,213.86 107.40,232.29 119.55,209.90" fill="none" stroke="#004bff" stroke-width="0.7" stroke-opacity="0.7"/>
<polyline points="34.50,190.04 46.65,223.31 58.80,242.65 70.95,224.99 83.10,227.50 95.25,212.33 107.40,234.52 119.55,219.05" fill="none" stroke="#0045ff" stroke-width="0.7" stroke-opacity="0.7"/>
<polyline points="34.50,186.32 46.65,221.19 58.80,238.04 70.95,220.81 83.10,226.24 95.25,235.55 107.40,225.48 119.55,220.76" fill="none" stroke="#003cff" stroke-width="0.7" stroke-opacity="0.7"/>
<polyline points="34.50,184.30 46.65,225.73 58.80,224.89 70.95,225.76 83.10,225.64 95.25,238.02 107.40,224.08 119.55,225.99" fill="none" stroke="#002eff" stroke-width="0.7" stroke-opacity="0.7"/>
<polyline points="34.50,188.15 46.65,229.86 58.80,218.77 70.95,213.87 83.10,226.82 95.25,223.32 107.40,237.40 119.55,236.21" fill="none" stroke="#0029ff" stroke-width="0.7" stroke-opacity="0.7"/>
<polyline points="34.50,188.48 46.65,223.28 58.80,235.40 70.95,237.74 83.10,220.44 95.25,221.82 107.40,233.29 119.55,213.95" fill="none" stroke="#0023ff" stroke-width="0.7" stroke-opacity="0.7"/>
<polyline points="34.50,187.60 46.65,227.64 58.80,221.13 70.95,215.15 83.10,234.75 95.25,222.33 107.40,239.40 119.55,226.41" fill="none" stroke="#0008ff" stroke-width="0.7" stroke-opacity="0.7"/>
<polyline points="34.50,185.27 46.65,221.50 58.80,236.63 70.95,228.56 83.10,221.10 95.25,224.71 107.40,223.13 119.55,233.50" fill="none" stroke="#0300ff" stroke-width="0.7" stroke-opacity="0.7"/>
<polyline points="34.50,185.46 46.65,234.61 58.80,218.95 70.95,233.14 83.10,228.74 95.25,222.04 107.40,220.89 119.55,230.58" fill="none" stroke="#1900ff" stroke-width="0.7" stroke-opacity="0.7"/>
<polyline points="34.50,185.30 46.65,231.88 58.80,231.37 70.95,215.54 83.10,232.06 95.25,222.22 107.40,228.20 119.55,227.84" fill="none" stroke="#2200ff" stroke-width="0.7" stroke-opacity="0.7"/>
<polyline points="34.50,183.14 46.65,226.62 58.80,228.55 70.95,223.87 83.10,232.06 95.25,226.99 107.40,225.61 119.55,227.55" fill="none" stroke="#2700ff" stroke-width="0.7" stroke-opacity="0.7"/>
<polyline points="34.50,183.68 46.65,227.06 58.80,220.66 70.95,229.24 83.10,231.17 95.25,228.84 107.40,230.14 119.55,223.61" fill="none" stroke="#2800ff" stroke-width="0.7" stroke-opacity="0.7"/>
<polyline points="34.50,185.39 46.65,222.52 58.80,226.15 70.95,222.76 83.10,236.82 95.25,230.70 107.40,218.87 119.55,231.20" fill="none" stroke="#2d00ff" stroke-width="0.7" stroke-opacity="0.7"/>
<polyline points="34.50,185.07 46.65,228.81 58.80,217.53 70.95,225.81 83.10,226.42 95.25,235.99 107.40,223.50 119.55,231.26" fill="none" stroke="#3500ff" stroke-width="0.7" stroke-opacity="0.7"/>
<polyline points="34.50,183.61 46.65,222.39 58.80,227.14 70.95,229.72 83.10,226.66 95.25,224.12 107.40,233.60 119.55,227.17" fill="none" stroke="#3600ff" stroke-width="0.7" stroke-opacity="0.7"/>
<polyline points="34.50,183.78 46.65,223.06 58.80,223.24 70.95,226.75 83.10,234.45 95.25,229.47 107.40,225.27 119.55,228.38" fill="none" stroke="#4100ff" stroke-width="0.7" stroke-opacity="0.7"/>
<polyline points="34.50,182.94 46.65,227.64 58.80,225.90 70.95,224.66 83.10,226.53 95.25,228.12 107.40,227.96 119.55,230.65" fill="none" stroke="#4200ff" stroke-width="0.7" stroke-opacity="0.7"/>
<polyline points="34.50,183.94 46.65,227.49 58.80,224.43 70.95,224.95 83.10,229.40 95.25,231.60 107.40,232.25 119.55,220.34" fill="none" stroke="#4800ff" stroke-width="0.7" stroke-opacity="0.7"/>
<polyline points="34.50,183.19 46.65,224.93 58.80,226.17 70.95,228.56 83.10,223.77 95.25,230.36 107.40,230.91 119.55,226.52" fill="none" stroke="#5900ff" stroke-width="0.7" stroke-opacity="0.8"/>
<polyline points="34.50,183.50 46.65,222.32 58.80,230.17 70.95,228.57 83.10,227.76 95.25,231.29 107.40,227.97 119.55,222.82" fill="none" stroke="#5b00ff" stroke-width="0.7" stroke-opacity="0.8"/>
<polyline points="34.50,183.08 46.65,226.13 58.80,230.94 70.95,223.18 83.10,226.67 95.25,228.06 107.40,227.77 119.55,228.57" fill="none" stroke="#6200ff" stroke-width="0.7" stroke-opacity="0.8"/>
<polyline points="34.50,183.12 46.65,226.01 58.80,226.35 70.95,226.43 83.10,229.78 95.25,227.94 107.40,231.10 119.55,223.67" fill="none" stroke="#6d00ff" stroke-width="0.7" stroke-opacity="0.8"/>
<polyline points="34.50,183.11 46.65,227.61 58.80,232.64 70.95,226.87 83.10,225.70 95.25,225.59 107.40,227.14 119.55,225.75" fill="none" stroke="#7400ff" stroke-width="0.7" stroke-opacity="0.8"/>
<polyline points="34.50,183.52 46.65,226.47 58.80,223.94 70.95,224.39 83.10,231.13 95.25,223.82 107.40,229.13 119.55,232.00" fill="none" stroke="#7500ff" stroke-width="0.7" stroke-opacity="0.8"/>
<polyline points="34.50,183.24 46.65,225.37 58.80,231.12 70.95,228.43 83.10,227.23 95.25,225.26 107.40,230.34 119.55,223.42" fill="none" stroke="#7c00ff" stroke-width="0.7" stroke-opacity="0.8"/>
<polyline points="34.50,183.04 46.65,226.05 58.80,228.38 70.95,229.22 83.10,230.26 95.25,223.49 107.40,226.62 119.55,227.34" fill="none" stroke="#8a00ff" stroke-width="0.7" stroke-opacity="0.8"/>
<polyline points="34.50,183.09 46.65,229.67 58.80,225.73 70.95,228.19 83.10,228.36 95.25,228.28 107.40,228.51 119.55,222.57" fill="none" stroke="#8e00ff" stroke-width="0.7" stroke-opacity="0.8"/>
<polyline points="34.50,183.19 46.65,232.43 58.80,226.13 70.95,224.56 83.10,225.19 95.25,226.17 107.40,227.98 119.55,228.75" fill="none" stroke="#9400ff" stroke-width="0.7" stroke-opacity="0.8"/>
<polyline points="34.50,183.04 46.65,227.08 58.80,228.34 70.95,223.73 83.10,230.33 95.25,227.68 107.40,228.97 119.55,225.23" fill="none" stroke="#9700ff" stroke-width="0.7" stroke-opacity="0.8"/>
<polyline points="34.50,183.07 46.65,223.56 58.80,227.04 70.95,228.77 83.10,227.03 95.25,227.92 107.40,225.87 119.55,231.13" fill="none" stroke="#9c00ff" stroke-width="0.7" stroke-opacity="0.8"/>
<polyline points="34.50,183.14 46.65,225.93 58.80,228.72 70.95,226.08 83.10,223.16 95.25,227.05 107.40,230.29 119.55,230.04" fill="none" stroke="#ac00ff" stroke-width="0.7" stroke-opacity="0.8"/>
<polyline points="34.50,183.55 46.65,228.96 58.80,228.59 70.95,225.55 83.10,221.73 95.25,233.05 107.40,225.42 119.55,227.55" fill="none" stroke="#af00ff" stroke-width="0.7" stroke-opacity="0.8"/>
</g>
<line x1="34.00" y1="264.00" x2="120.05" y2="264.00" stroke="#1a1a1a" stroke-width="1.2"/>
<line x1="34.50" y1="264.00" x2="34.50" y2="267.00" stroke="#1a1a1a" stroke-width="1.1"/>
<line x1="46.65" y1="264.00" x2="46.65" y2="267.00" stroke="#1a1a1a" stroke-width="1.1"/>
<line x1="58.80" y1="264.00" x2="58.80" y2="267.00" stroke="#1a1a1a" stroke-width="1.1"/>
<line x1="70.95" y1="264.00" x2="70.95" y2="267.00" stroke="#1a1a1a" stroke-width="1.1"/>
<line x1="83.10" y1="264.00" x2="83.10" y2="267.00" stroke="#1a1a1a" stroke-width="1.1"/>
<line x1="95.25" y1="264.00" x2="95.25" y2="267.00" stroke="#1a1a1a" stroke-width="1.1"/>
<line x1="107.40" y1="264.00" x2="107.40" y2="267.00" stroke="#1a1a1a" stroke-width="1.1"/>
<line x1="119.55" y1="264.00" x2="119.55" y2="267.00" stroke="#1a1a1a" stroke-width="1.1"/>
<text x="201.60" y="175.20" font-size="8.8" text-anchor="middle" fill="#000" font-weight="normal" font-family="Liberation Serif" stroke="#000" stroke-width="0.22" xml:space="preserve">Cluster 2  65</text>
<line x1="152.50" y1="191.30" x2="152.50" y2="255.50" stroke="#1a1a1a" stroke-width="1.2"/>
<line x1="147.90" y1="191.80" x2="152.50" y2="191.80" stroke="#1a1a1a" stroke-width="1.2"/>
<line x1="147.90" y1="207.60" x2="152.50" y2="207.60" stroke="#1a1a1a" stroke-width="1.2"/>
<line x1="147.90" y1="223.40" x2="152.50" y2="223.40" stroke="#1a1a1a" stroke-width="1.2"/>
<line x1="147.90" y1="239.20" x2="152.50" y2="239.20" stroke="#1a1a1a" stroke-width="1.2"/>
<line x1="147.90" y1="255.00" x2="152.50" y2="255.00" stroke="#1a1a1a" stroke-width="1.2"/>
<g>
<polyline points="155.20,220.96 167.40,230.66 179.60,203.27 191.80,234.05 204.00,223.09 216.20,205.04 228.40,226.43 240.60,238.70" fill="none" stroke="#9cff00" stroke-width="0.7" stroke-opacity="0.75"/>
<polyline points="155.20,227.99 167.40,220.20 179.60,221.47 191.80,214.98 204.00,228.55 216.20,197.03 228.40,228.41 240.60,245.97" fill="none" stroke="#93ff00" stroke-width="0.7" stroke-opacity="0.7"/>
<polyline points="155.20,217.91 167.40,221.36 179.60,215.89 191.80,231.05 204.00,250.68 216.20,196.84 228.40,220.87 240.60,233.17" fill="none" stroke="#8fff00" stroke-width="0.7" stroke-opacity="0.7"/>
<polyline points="155.20,217.48 167.40,224.50 179.60,202.38 191.80,237.04 204.00,222.82 216.20,203.33 228.40,229.95 240.60,241.76" fill="none" stroke="#84ff00" stroke-width="0.7" stroke-opacity="0.75"/>
<polyline points="155.20,216.34 167.40,235.89 179.60,203.88 191.80,240.34 204.00,218.56 216.20,202.72 228.40,233.08 240.60,241.14" fill="none" stroke="#54e000" stroke-width="0.7" stroke-opacity="0.7"/>
<polyline points="155.20,220.26 167.40,220.42 179.60,215.95 191.80,220.42 204.00,257.97 216.20,206.54 228.40,214.47 240.60,228.88" fill="none" stroke="#22e000" stroke-width="0.7" stroke-opacity="0.75"/>
<polyline points="155.20,225.38 167.40,216.85 179.60,220.24 191.80,215.14 204.00,222.22 216.20,204.97 228.40,223.29 240.60,256.03" fill="none" stroke="#15e000" stroke-width="0.7" stroke-opacity="0.75"/>
<polyline points="155.20,199.25 167.40,188.30 179.60,229.12 191.80,226.03 204.00,234.93 216.20,212.79 228.40,233.65 240.60,227.89" fill="none" stroke="#10e000" stroke-width="0.7" stroke-opacity="0.75"/>
<polyline points="155.20,199.40 167.40,189.17 179.60,226.15 191.80,219.79 204.00,238.42 216.20,214.53 228.40,235.28 240.60,227.86" fill="none" stroke="#02e000" stroke-width="0.7" stroke-opacity="0.75"/>
<polyline points="155.20,225.01 167.40,222.19 179.60,222.38 191.80,216.12 204.00,219.29 216.20,202.29 228.40,221.87 240.60,249.18" fill="none" stroke="#00e004" stroke-width="0.7" stroke-opacity="0.75"/>
<polyline points="155.20,220.03 167.40,211.55 179.60,239.89 191.80,197.47 204.00,230.38 216.20,212.59 228.40,225.02 240.60,231.77" fill="none" stroke="#00e007" stroke-width="0.7" stroke-opacity="0.75"/>
<polyline points="155.20,201.01 167.40,184.74 179.60,228.88 191.80,221.02 204.00,241.08 216.20,214.42 228.40,233.12 240.60,228.43" fill="none" stroke="#00e00d" stroke-width="0.7" stroke-opacity="0.75"/>
<polyline points="155.20,217.94 167.40,214.48 179.60,242.38 191.80,202.56 204.00,227.05 216.20,208.31 228.40,229.92 240.60,230.94" fill="none" stroke="#00e019" stroke-width="0.7" stroke-opacity="0.75"/>
<polyline points="155.20,225.17 167.40,221.74 179.60,216.96 191.80,216.10 204.00,249.60 216.20,200.40 228.40,223.40 240.60,218.91" fill="none" stroke="#00e020" stroke-width="0.7" stroke-opacity="0.7"/>
<polyline points="155.20,224.57 167.40,218.91 179.60,215.54 191.80,222.77 204.00,258.63 216.20,210.21 228.40,215.82 240.60,229.55" fill="none" stroke="#00e020" stroke-width="0.7" stroke-opacity="0.75"/>
<polyline points="155.20,220.90 167.40,220.29 179.60,214.97 191.80,220.49 204.00,256.80 216.20,204.76 228.40,220.81 240.60,229.27" fill="none" stroke="#00e024" stroke-width="0.7" stroke-opacity="0.75"/>
<polyline points="155.20,231.16 167.40,211.35 179.60,246.97 191.80,200.65 204.00,225.88 216.20,202.31 228.40,226.24 240.60,236.67" fill="none" stroke="#00e027" stroke-width="0.7" stroke-opacity="0.7"/>
<polyline points="155.20,225.07 167.40,221.85 179.60,218.11 191.80,222.37 204.00,248.58 216.20,203.37 228.40,216.45 240.60,229.18" fill="none" stroke="#00e03c" stroke-width="0.7" stroke-opacity="0.7"/>
<polyline points="155.20,194.46 167.40,212.64 179.60,222.72 191.80,221.10 204.00,230.40 216.20,214.66 228.40,243.87 240.60,230.75" fill="none" stroke="#00e074" stroke-width="0.7" stroke-opacity="0.75"/>
<polyline points="155.20,195.67 167.40,213.10 179.60,218.43 191.80,223.29 204.00,229.91 216.20,215.60 228.40,239.59 240.60,231.16" fill="none" stroke="#00e0ad" stroke-width="0.7" stroke-opacity="0.75"/>
<polyline points="155.20,196.25 167.40,205.14 179.60,219.68 191.80,237.13 204.00,223.45 216.20,234.47 228.40,230.17 240.60,240.90" fill="none" stroke="#00ffd9" stroke-width="0.7" stroke-opacity="0.7"/>
<polyline points="155.20,228.83 167.40,242.72 179.60,234.50 191.80,233.36 204.00,219.46 216.20,201.04 228.40,199.22 240.60,228.07" fill="none" stroke="#00ffe8" stroke-width="0.7" stroke-opacity="0.7"/>
<polyline points="155.20,219.87 167.40,219.40 179.60,231.23 191.80,242.76 204.00,243.34 216.20,216.76 228.40,219.12 240.60,194.72" fill="none" stroke="#00f1ff" stroke-width="0.7" stroke-opacity="0.7"/>
<polyline points="155.20,231.05 167.40,231.13 179.60,218.33 191.80,243.33 204.00,209.43 216.20,194.13 228.40,223.99 240.60,235.80" fill="none" stroke="#00d4ff" stroke-width="0.7" stroke-opacity="0.7"/>
<polyline points="155.20,231.91 167.40,211.08 179.60,238.27 191.80,239.85 204.00,220.82 216.20,194.63 228.40,215.58 240.60,235.06" fill="none" stroke="#00c6ff" stroke-width="0.7" stroke-opacity="0.7"/>
<polyline points="155.20,230.45 167.40,251.71 179.60,213.26 191.80,214.75 204.00,232.06 216.20,206.80 228.40,206.23 240.60,231.95" fill="none" stroke="#00adff" stroke-width="0.7" stroke-opacity="0.7"/>
<polyline points="155.20,217.97 167.40,228.94 179.60,219.41 191.80,241.38 204.00,232.80 216.20,199.79 228.40,242.19 240.60,204.72" fill="none" stroke="#009bff" stroke-width="0.7" stroke-opacity="0.7"/>
<polyline points="155.20,234.95 167.40,238.41 179.60,230.40 191.80,223.05 204.00,198.15 216.20,199.72 228.40,228.24 240.60,234.28" fill="none" stroke="#0099ff" stroke-width="0.7" stroke-opacity="0.7"/>
<polyline points="155.20,211.03 167.40,226.61 179.60,238.39 191.80,215.58 204.00,245.12 216.20,196.71 228.40,233.60 240.60,220.16" fill="none" stroke="#0097ff" stroke-width="0.7" stroke-opacity="0.7"/>
<polyline points="155.20,228.29 167.40,241.76 179.60,229.29 191.80,216.49 204.00,224.87 216.20,189.15 228.40,234.73 240.60,222.62" fill="none" stroke="#007dff" stroke-width="0.7" stroke-opacity="0.7"/>
<polyline points="155.20,221.79 167.40,222.49 179.60,234.24 191.80,230.72 204.00,243.36 216.20,189.26 228.40,224.72 240.60,220.61" fill="none" stroke="#0062ff" stroke-width="0.7" stroke-opacity="0.7"/>
<polyline points="155.20,233.83 167.40,216.43 179.60,230.52 191.80,202.22 204.00,228.31 216.20,198.93 228.40,241.06 240.60,235.89" fill="none" stroke="#0033ff" stroke-width="0.7" stroke-opacity="0.7"/>
<polyline points="155.20,224.15 167.40,223.37 179.60,236.80 191.80,229.61 204.00,234.46 216.20,189.06 228.40,235.44 240.60,214.31" fill="none" stroke="#0026ff" stroke-width="0.7" stroke-opacity="0.7"/>
<polyline points="155.20,241.80 167.40,216.53 179.60,218.56 191.80,238.52 204.00,233.36 216.20,192.64 228.40,217.25 240.60,228.54" fill="none" stroke="#0300ff" stroke-width="0.7" stroke-opacity="0.7"/>
<polyline points="155.20,242.31 167.40,228.05 179.60,215.79 191.80,230.01 204.00,230.81 216.20,188.95 228.40,222.87 240.60,228.42" fill="none" stroke="#0400ff" stroke-width="0.7" stroke-opacity="0.7"/>
<polyline points="155.20,228.46 167.40,224.67 179.60,235.37 191.80,226.51 204.00,231.37 216.20,185.34 228.40,230.67 240.60,224.81" fill="none" stroke="#2e00ff" stroke-width="0.7" stroke-opacity="0.7"/>
<polyline points="155.20,223.56 167.40,231.11 179.60,228.87 191.80,231.34 204.00,232.89 216.20,185.86 228.40,220.75 240.60,232.82" fill="none" stroke="#2f00ff" stroke-width="0.7" stroke-opacity="0.7"/>
<polyline points="155.20,228.86 167.40,219.79 179.60,230.71 191.80,225.62 204.00,237.73 216.20,186.81 228.40,233.46 240.60,224.22" fill="none" stroke="#3400ff" stroke-width="0.7" stroke-opacity="0.7"/>
<polyline points="155.20,228.35 167.40,217.68 179.60,229.74 191.80,234.49 204.00,237.78 216.20,187.49 228.40,228.89 240.60,222.79" fill="none" stroke="#5100ff" stroke-width="0.7" stroke-opacity="0.7"/>
<polyline points="155.20,227.00 167.40,225.89 179.60,234.14 191.80,238.47 204.00,231.88 216.20,187.51 228.40,218.33 240.60,223.97" fill="none" stroke="#5600ff" stroke-width="0.7" stroke-opacity="0.7"/>
<polyline points="155.20,225.69 167.40,235.90 179.60,224.49 191.80,228.35 204.00,234.33 216.20,185.70 228.40,227.45 240.60,225.29" fill="none" stroke="#7900ff" stroke-width="0.7" stroke-opacity="0.7"/>
<polyline points="155.20,233.83 167.40,235.12 179.60,231.87 191.80,230.34 204.00,228.28 216.20,186.89 228.40,218.52 240.60,222.35" fill="none" stroke="#8d00ff" stroke-width="0.7" stroke-opacity="0.7"/>
<polyline points="155.20,223.09 167.40,225.98 179.60,239.20 191.80,233.96 204.00,227.43 216.20,186.62 228.40,224.49 240.60,226.42" fill="none" stroke="#8e00ff" stroke-width="0.7" stroke-opacity="0.7"/>
<polyline points="155.20,221.21 167.40,225.89 179.60,235.18 191.80,236.31 204.00,228.72 216.20,186.26 228.40,226.69 240.60,226.96" fill="none" stroke="#9900ff" stroke-width="0.7" stroke-opacity="0.7"/>
<polyline points="155.20,216.29 167.40,233.13 179.60,229.89 191.80,231.56 204.00,232.34 216.20,186.99 228.40,232.71 240.60,224.29" fill="none" stroke="#a800ff" stroke-width="0.7" stroke-opacity="0.7"/>
<polyline points="155.20,227.15 167.40,225.95 179.60,232.12 191.80,226.86 204.00,232.61 216.20,184.80 228.40,230.39 240.60,227.32" fill="none" stroke="#b700ff" stroke-width="0.7" stroke-opacity="0.7"/>
<polyline points="155.20,227.22 167.40,228.71 179.60,229.11 191.80,234.33 204.00,225.36 216.20,186.09 228.40,235.64 240.60,220.76" fill="none" stroke="#d000ff" stroke-width="0.7" stroke-opacity="0.7"/>
<polyline points="155.20,224.98 167.40,230.75 179.60,222.04 191.80,225.70 204.00,233.46 216.20,186.77 228.40,224.62 240.60,238.88" fill="none" stroke="#d100ff" stroke-width="0.7" stroke-opacity="0.7"/>
<polyline points="155.20,233.77 167.40,224.67 179.60,226.56 191.80,226.25 204.00,223.31 216.20,185.77 228.40,232.27 240.60,234.60" fill="none" stroke="#ec00ff" stroke-width="0.7" stroke-opacity="0.7"/>
<polyline points="155.20,226.79 167.40,229.05 179.60,225.95 191.80,229.33 204.00,229.41 216.20,184.63 228.40,229.15 240.60,232.89" fill="none" stroke="#ff00e8" stroke-width="0.7" stroke-opacity="0.8"/>
<polyline points="155.20,225.89 167.40,226.53 179.60,228.42 191.80,230.45 204.00,233.05 216.20,184.78 228.40,231.05 240.60,227.03" fill="none" stroke="#ff00e8" stroke-width="0.7" stroke-opacity="0.8"/>
<polyline points="155.20,230.44 167.40,226.66 179.60,231.31 191.80,231.55 204.00,228.59 216.20,184.66 228.40,225.41 240.60,228.57" fill="none" stroke="#ff00e8" stroke-width="0.7" stroke-opacity="0.8"/>
<polyline points="155.20,226.67 167.40,230.78 179.60,228.59 191.80,226.74 204.00,231.95 216.20,184.55 228.40,228.88 240.60,229.03" fill="none" stroke="#ff00e7" stroke-width="0.7" stroke-opacity="0.8"/>
<polyline points="155.20,230.79 167.40,230.57 179.60,228.46 191.80,229.39 204.00,232.19 216.20,184.76 228.40,225.84 240.60,225.19" fill="none" stroke="#ff00e7" stroke-width="0.7" stroke-opacity="0.8"/>
<polyline points="155.20,231.89 167.40,227.78 179.60,228.23 191.80,230.71 204.00,232.99 216.20,185.36 228.40,229.29 240.60,220.94" fill="none" stroke="#ff00e4" stroke-width="0.7" stroke-opacity="0.8"/>
<polyline points="155.20,224.52 167.40,223.92 179.60,230.26 191.80,228.25 204.00,234.07 216.20,185.20 228.40,231.55 240.60,229.43" fill="none" stroke="#ff00d6" stroke-width="0.7" stroke-opacity="0.8"/>
<polyline points="155.20,230.04 167.40,224.71 179.60,228.79 191.80,228.68 204.00,227.14 216.20,184.78 228.40,233.38 240.60,229.69" fill="none" stroke="#ff00d1" stroke-width="0.7" stroke-opacity="0.8"/>
<polyline points="155.20,229.43 167.40,231.37 179.60,234.26 191.80,227.96 204.00,227.97 216.20,184.96 228.40,224.96 240.60,226.29" fill="none" stroke="#ff00d1" stroke-width="0.7" stroke-opacity="0.8"/>
<polyline points="155.20,226.70 167.40,233.55 179.60,233.67 191.80,229.43 204.00,223.72 216.20,185.59 228.40,231.28 240.60,223.27" fill="none" stroke="#ff00c8" stroke-width="0.7" stroke-opacity="0.8"/>
<polyline points="155.20,229.98 167.40,228.16 179.60,226.85 191.80,226.74 204.00,229.83 216.20,184.53 228.40,229.17 240.60,231.94" fill="none" stroke="#ff00c7" stroke-width="0.7" stroke-opacity="0.8"/>
<polyline points="155.20,231.78 167.40,230.72 179.60,225.94 191.80,228.62 204.00,229.64 216.20,184.56 228.40,227.22 240.60,228.71" fill="none" stroke="#ff00c6" stroke-width="0.7" stroke-opacity="0.8"/>
<polyline points="155.20,229.83 167.40,230.35 179.60,231.99 191.80,225.61 204.00,229.67 216.20,185.12 228.40,231.99 240.60,222.64" fill="none" stroke="#ff00b7" stroke-width="0.7" stroke-opacity="0.8"/>
<polyline points="155.20,230.07 167.40,229.71 179.60,228.06 191.80,228.92 204.00,233.11 216.20,184.72 228.40,227.63 240.60,224.98" fill="none" stroke="#ff00a5" stroke-width="0.7" stroke-opacity="0.8"/>
<polyline points="155.20,234.27 167.40,227.98 179.60,231.28 191.80,229.88 204.00,228.38 216.20,185.18 228.40,222.60 240.60,227.62" fill="none" stroke="#ff00a0" stroke-width="0.7" stroke-opacity="0.8"/>
<polyline points="155.20,229.80 167.40,231.28 179.60,230.32 191.80,224.61 204.00,230.07 216.20,184.70 228.40,226.37 240.60,230.05" fill="none" stroke="#ff009e" stroke-width="0.7" stroke-opacity="0.8"/>
</g>
<line x1="154.70" y1="265.80" x2="241.10" y2="265.80" stroke="#1a1a1a" stroke-width="1.2"/>
<line x1="155.20" y1="265.80" x2="155.20" y2="268.80" stroke="#1a1a1a" stroke-width="1.1"/>
<line x1="167.40" y1="265.80" x2="167.40" y2="268.80" stroke="#1a1a1a" stroke-width="1.1"/>
<line x1="179.60" y1="265.80" x2="179.60" y2="268.80" stroke="#1a1a1a" stroke-width="1.1"/>
<line x1="191.80" y1="265.80" x2="191.80" y2="268.80" stroke="#1a1a1a" stroke-width="1.1"/>
<line x1="204.00" y1="265.80" x2="204.00" y2="268.80" stroke="#1a1a1a" stroke-width="1.1"/>
<line x1="216.20" y1="265.80" x2="216.20" y2="268.80" stroke="#1a1a1a" stroke-width="1.1"/>
<line x1="228.40" y1="265.80" x2="228.40" y2="268.80" stroke="#1a1a1a" stroke-width="1.1"/>
<line x1="240.60" y1="265.80" x2="240.60" y2="268.80" stroke="#1a1a1a" stroke-width="1.1"/>
<text x="322.20" y="175.20" font-size="8.8" text-anchor="middle" fill="#000" font-weight="normal" font-family="Liberation Serif" stroke="#000" stroke-width="0.22" xml:space="preserve">Cluster 3  92</text>
<line x1="278.60" y1="191.30" x2="278.60" y2="255.50" stroke="#1a1a1a" stroke-width="1.2"/>
<line x1="274.00" y1="191.80" x2="278.60" y2="191.80" stroke="#1a1a1a" stroke-width="1.2"/>
<line x1="274.00" y1="207.60" x2="278.60" y2="207.60" stroke="#1a1a1a" stroke-width="1.2"/>
<line x1="274.00" y1="223.40" x2="278.60" y2="223.40" stroke="#1a1a1a" stroke-width="1.2"/>
<line x1="274.00" y1="239.20" x2="278.60" y2="239.20" stroke="#1a1a1a" stroke-width="1.2"/>
<line x1="274.00" y1="255.00" x2="278.60" y2="255.00" stroke="#1a1a1a" stroke-width="1.2"/>
<g>
<polyline points="281.10,219.30 293.54,228.72 305.98,189.42 318.42,233.40 330.86,220.93 343.30,227.63 355.74,212.54 368.18,235.82" fill="none" stroke="#a5ff00" stroke-width="0.7" stroke-opacity="0.75"/>
<polyline points="281.10,229.87 293.54,221.02 305.98,220.13 318.42,228.85 330.86,243.13 343.30,222.81 355.74,215.31 368.18,222.97" fill="none" stroke="#90ff00" stroke-width="0.7" stroke-opacity="0.7"/>
<polyline points="281.10,260.25 293.54,217.36 305.98,216.54 318.42,224.57 330.86,218.60 343.30,222.24 355.74,213.06 368.18,216.93" fill="none" stroke="#8fff00" stroke-width="0.7" stroke-opacity="0.75"/>
<polyline points="281.10,218.82 293.54,229.79 305.98,202.61 318.42,227.80 330.86,229.53 343.30,226.85 355.74,209.72 368.18,230.42" fill="none" stroke="#8bff00" stroke-width="0.7" stroke-opacity="0.7"/>
<polyline points="281.10,218.12 293.54,219.40 305.98,215.66 318.42,219.86 330.86,221.50 343.30,225.93 355.74,203.53 368.18,249.48" fill="none" stroke="#87ff00" stroke-width="0.7" stroke-opacity="0.7"/>
<polyline points="281.10,225.92 293.54,218.86 305.98,224.73 318.42,226.52 330.86,223.84 343.30,219.69 355.74,212.49 368.18,242.61" fill="none" stroke="#84ff00" stroke-width="0.7" stroke-opacity="0.7"/>
<polyline points="281.10,225.36 293.54,225.72 305.98,194.07 318.42,235.25 330.86,219.58 343.30,228.06 355.74,214.97 368.18,238.59" fill="none" stroke="#6fe000" stroke-width="0.7" stroke-opacity="0.75"/>
<polyline points="281.10,259.87 293.54,212.17 305.98,215.31 318.42,218.20 330.86,217.61 343.30,223.89 355.74,211.37 368.18,215.70" fill="none" stroke="#67e000" stroke-width="0.7" stroke-opacity="0.75"/>
<polyline points="281.10,229.32 293.54,224.64 305.98,191.36 318.42,232.39 330.86,218.89 343.30,225.83 355.74,209.42 368.18,237.50" fill="none" stroke="#60e000" stroke-width="0.7" stroke-opacity="0.7"/>
<polyline points="281.10,221.08 293.54,232.27 305.98,205.39 318.42,226.99 330.86,219.14 343.30,230.47 355.74,204.24 368.18,228.63" fill="none" stroke="#5fe000" stroke-width="0.7" stroke-opacity="0.7"/>
<polyline points="281.10,223.00 293.54,220.39 305.98,242.86 318.42,220.98 330.86,224.48 343.30,226.72 355.74,209.19 368.18,236.16" fill="none" stroke="#5ae000" stroke-width="0.7" stroke-opacity="0.7"/>
<polyline points="281.10,217.51 293.54,227.70 305.98,205.50 318.42,223.83 330.86,225.58 343.30,226.94 355.74,217.63 368.18,221.18" fill="none" stroke="#48e000" stroke-width="0.7" stroke-opacity="0.7"/>
<polyline points="281.10,226.37 293.54,213.36 305.98,220.43 318.42,223.46 330.86,246.90 343.30,224.25 355.74,207.87 368.18,217.06" fill="none" stroke="#3ce000" stroke-width="0.7" stroke-opacity="0.7"/>
<polyline points="281.10,233.90 293.54,207.87 305.98,222.76 318.42,221.92 330.86,212.12 343.30,219.74 355.74,214.08 368.18,225.87" fill="none" stroke="#39e000" stroke-width="0.7" stroke-opacity="0.7"/>
<polyline points="281.10,219.50 293.54,226.84 305.98,192.48 318.42,235.43 330.86,227.49 343.30,228.52 355.74,217.72 368.18,237.18" fill="none" stroke="#33e000" stroke-width="0.7" stroke-opacity="0.7"/>
<polyline points="281.10,234.08 293.54,215.00 305.98,245.41 318.42,212.54 330.86,225.93 343.30,227.63 355.74,205.98 368.18,230.41" fill="none" stroke="#2ae000" stroke-width="0.7" stroke-opacity="0.7"/>
<polyline points="281.10,213.71 293.54,218.74 305.98,261.91 318.42,213.82 330.86,219.08 343.30,225.35 355.74,208.78 368.18,225.78" fill="none" stroke="#21e000" stroke-width="0.7" stroke-opacity="0.75"/>
<polyline points="281.10,215.26 293.54,218.29 305.98,216.07 318.42,213.74 330.86,215.42 343.30,225.95 355.74,208.06 368.18,260.09" fill="none" stroke="#1ee000" stroke-width="0.7" stroke-opacity="0.75"/>
<polyline points="281.10,219.60 293.54,209.66 305.98,222.60 318.42,217.51 330.86,218.10 343.30,224.37 355.74,195.01 368.18,253.38" fill="none" stroke="#19e000" stroke-width="0.7" stroke-opacity="0.7"/>
<polyline points="281.10,220.44 293.54,220.40 305.98,247.28 318.42,223.58 330.86,216.42 343.30,221.18 355.74,213.40 368.18,232.01" fill="none" stroke="#13e000" stroke-width="0.7" stroke-opacity="0.7"/>
<polyline points="281.10,214.30 293.54,216.13 305.98,223.33 318.42,217.82 330.86,220.56 343.30,223.30 355.74,206.08 368.18,253.31" fill="none" stroke="#11e000" stroke-width="0.7" stroke-opacity="0.75"/>
<polyline points="281.10,223.75 293.54,226.66 305.98,218.53 318.42,228.50 330.86,219.00 343.30,231.30 355.74,219.05 368.18,237.19" fill="none" stroke="#11e000" stroke-width="0.7" stroke-opacity="0.7"/>
<polyline points="281.10,215.26 293.54,230.29 305.98,194.08 318.42,226.93 330.86,215.64 343.30,224.53 355.74,212.13 368.18,227.61" fill="none" stroke="#06e000" stroke-width="0.7" stroke-opacity="0.7"/>
<polyline points="281.10,229.03 293.54,187.53 305.98,226.50 318.42,215.00 330.86,225.27 343.30,224.60 355.74,211.19 368.18,231.60" fill="none" stroke="#02e000" stroke-width="0.7" stroke-opacity="0.75"/>
<polyline points="281.10,220.07 293.54,221.00 305.98,216.55 318.42,222.04 330.86,257.96 343.30,222.76 355.74,204.45 368.18,217.36" fill="none" stroke="#00e002" stroke-width="0.7" stroke-opacity="0.75"/>
<polyline points="281.10,213.72 293.54,212.13 305.98,257.04 318.42,214.67 330.86,223.34 343.30,222.14 355.74,209.50 368.18,223.31" fill="none" stroke="#00e006" stroke-width="0.7" stroke-opacity="0.75"/>
<polyline points="281.10,223.42 293.54,186.52 305.98,227.40 318.42,219.33 330.86,228.14 343.30,225.90 355.74,211.69 368.18,231.74" fill="none" stroke="#00e00b" stroke-width="0.7" stroke-opacity="0.75"/>
<polyline points="281.10,226.46 293.54,193.12 305.98,225.57 318.42,220.01 330.86,227.63 343.30,223.91 355.74,215.55 368.18,233.43" fill="none" stroke="#00e011" stroke-width="0.7" stroke-opacity="0.75"/>
<polyline points="281.10,218.13 293.54,214.20 305.98,213.53 318.42,219.85 330.86,259.83 343.30,219.47 355.74,205.88 368.18,218.98" fill="none" stroke="#00e012" stroke-width="0.7" stroke-opacity="0.75"/>
<polyline points="281.10,251.04 293.54,213.65 305.98,216.00 318.42,220.49 330.86,217.77 343.30,217.52 355.74,210.01 368.18,220.51" fill="none" stroke="#00e012" stroke-width="0.7" stroke-opacity="0.7"/>
<polyline points="281.10,216.01 293.54,215.57 305.98,263.31 318.42,213.28 330.86,230.32 343.30,222.44 355.74,201.25 368.18,233.23" fill="none" stroke="#00e012" stroke-width="0.7" stroke-opacity="0.7"/>
<polyline points="281.10,211.73 293.54,216.74 305.98,258.90 318.42,217.98 330.86,218.49 343.30,220.29 355.74,208.48 368.18,230.63" fill="none" stroke="#00e01a" stroke-width="0.7" stroke-opacity="0.75"/>
<polyline points="281.10,218.15 293.54,220.99 305.98,216.39 318.42,223.98 330.86,253.06 343.30,220.54 355.74,204.12 368.18,220.50" fill="none" stroke="#00e01e" stroke-width="0.7" stroke-opacity="0.75"/>
<polyline points="281.10,219.08 293.54,215.35 305.98,225.17 318.42,218.97 330.86,232.98 343.30,228.63 355.74,197.29 368.18,253.50" fill="none" stroke="#00e02c" stroke-width="0.7" stroke-opacity="0.7"/>
<polyline points="281.10,221.84 293.54,211.77 305.98,225.93 318.42,209.16 330.86,220.81 343.30,219.51 355.74,204.81 368.18,262.66" fill="none" stroke="#00e041" stroke-width="0.7" stroke-opacity="0.7"/>
<polyline points="281.10,219.94 293.54,210.37 305.98,261.09 318.42,221.35 330.86,226.06 343.30,226.86 355.74,202.63 368.18,222.22" fill="none" stroke="#00e043" stroke-width="0.7" stroke-opacity="0.7"/>
<polyline points="281.10,218.76 293.54,219.38 305.98,207.73 318.42,222.78 330.86,210.13 343.30,228.29 355.74,218.96 368.18,232.42" fill="none" stroke="#00e045" stroke-width="0.7" stroke-opacity="0.7"/>
<polyline points="281.10,228.45 293.54,223.51 305.98,208.95 318.42,233.63 330.86,223.94 343.30,227.64 355.74,214.79 368.18,226.26" fill="none" stroke="#00e054" stroke-width="0.7" stroke-opacity="0.7"/>
<polyline points="281.10,229.78 293.54,194.69 305.98,225.08 318.42,218.26 330.86,228.46 343.30,222.73 355.74,211.54 368.18,232.30" fill="none" stroke="#00e056" stroke-width="0.7" stroke-opacity="0.7"/>
<polyline points="281.10,250.52 293.54,217.68 305.98,215.33 318.42,224.27 330.86,218.70 343.30,221.14 355.74,198.74 368.18,220.90" fill="none" stroke="#00e060" stroke-width="0.7" stroke-opacity="0.7"/>
<polyline points="281.10,211.10 293.54,221.61 305.98,196.58 318.42,228.27 330.86,224.01 343.30,226.50 355.74,211.35 368.18,233.48" fill="none" stroke="#00e067" stroke-width="0.7" stroke-opacity="0.7"/>
<polyline points="281.10,213.39 293.54,211.23 305.98,242.96 318.42,224.31 330.86,218.39 343.30,221.13 355.74,205.36 368.18,225.01" fill="none" stroke="#00e068" stroke-width="0.7" stroke-opacity="0.7"/>
<polyline points="281.10,219.79 293.54,221.54 305.98,212.01 318.42,232.69 330.86,253.14 343.30,213.70 355.74,204.65 368.18,213.83" fill="none" stroke="#00e06a" stroke-width="0.7" stroke-opacity="0.7"/>
<polyline points="281.10,212.36 293.54,224.12 305.98,205.51 318.42,228.57 330.86,210.84 343.30,230.35 355.74,214.36 368.18,230.20" fill="none" stroke="#00e07b" stroke-width="0.7" stroke-opacity="0.75"/>
<polyline points="281.10,221.53 293.54,227.45 305.98,219.52 318.42,216.47 330.86,227.05 343.30,227.22 355.74,210.61 368.18,245.00" fill="none" stroke="#00e085" stroke-width="0.7" stroke-opacity="0.7"/>
<polyline points="281.10,212.10 293.54,217.18 305.98,209.15 318.42,223.60 330.86,210.86 343.30,223.91 355.74,211.65 368.18,234.42" fill="none" stroke="#00e088" stroke-width="0.7" stroke-opacity="0.7"/>
<polyline points="281.10,233.99 293.54,199.55 305.98,230.62 318.42,222.43 330.86,222.70 343.30,226.31 355.74,207.81 368.18,227.59" fill="none" stroke="#00e0a8" stroke-width="0.7" stroke-opacity="0.7"/>
<polyline points="281.10,249.30 293.54,225.89 305.98,210.51 318.42,240.92 330.86,211.12 343.30,230.66 355.74,210.41 368.18,208.39" fill="none" stroke="#00e0af" stroke-width="0.7" stroke-opacity="0.7"/>
<polyline points="281.10,215.24 293.54,226.18 305.98,207.60 318.42,228.48 330.86,207.16 343.30,228.12 355.74,214.71 368.18,235.77" fill="none" stroke="#00e0b2" stroke-width="0.7" stroke-opacity="0.75"/>
<polyline points="281.10,231.70 293.54,215.10 305.98,202.98 318.42,234.69 330.86,248.43 343.30,231.68 355.74,205.08 368.18,217.54" fill="none" stroke="#00e0b3" stroke-width="0.7" stroke-opacity="0.7"/>
<polyline points="281.10,213.13 293.54,240.51 305.98,236.39 318.42,222.10 330.86,232.15 343.30,230.17 355.74,190.94 368.18,221.80" fill="none" stroke="#00e0b7" stroke-width="0.7" stroke-opacity="0.7"/>
<polyline points="281.10,210.33 293.54,227.16 305.98,212.78 318.42,234.75 330.86,239.92 343.30,222.96 355.74,197.07 368.18,242.22" fill="none" stroke="#00ffe3" stroke-width="0.7" stroke-opacity="0.7"/>
<polyline points="281.10,236.52 293.54,211.31 305.98,248.47 318.42,201.67 330.86,222.26 343.30,234.51 355.74,209.12 368.18,223.34" fill="none" stroke="#00ffe7" stroke-width="0.7" stroke-opacity="0.7"/>
<polyline points="281.10,239.23 293.54,226.71 305.98,234.05 318.42,217.21 330.86,208.48 343.30,231.78 355.74,193.71 368.18,236.04" fill="none" stroke="#00ffee" stroke-width="0.7" stroke-opacity="0.7"/>
<polyline points="281.10,222.97 293.54,218.47 305.98,226.97 318.42,229.30 330.86,236.37 343.30,247.97 355.74,198.34 368.18,206.81" fill="none" stroke="#00fff2" stroke-width="0.7" stroke-opacity="0.7"/>
<polyline points="281.10,212.45 293.54,234.55 305.98,221.10 318.42,231.83 330.86,248.03 343.30,211.28 355.74,198.24 368.18,229.73" fill="none" stroke="#00eeff" stroke-width="0.7" stroke-opacity="0.7"/>
<polyline points="281.10,233.08 293.54,219.87 305.98,239.34 318.42,225.65 330.86,238.19 343.30,223.77 355.74,189.81 368.18,217.48" fill="none" stroke="#00caff" stroke-width="0.7" stroke-opacity="0.7"/>
<polyline points="281.10,222.27 293.54,212.30 305.98,221.25 318.42,244.82 330.86,229.55 343.30,223.97 355.74,193.87 368.18,239.18" fill="none" stroke="#00baff" stroke-width="0.7" stroke-opacity="0.7"/>
<polyline points="281.10,242.42 293.54,215.85 305.98,217.56 318.42,241.01 330.86,225.46 343.30,227.07 355.74,192.38 368.18,225.44" fill="none" stroke="#0098ff" stroke-width="0.7" stroke-opacity="0.7"/>
<polyline points="281.10,227.42 293.54,211.50 305.98,229.22 318.42,234.48 330.86,227.66 343.30,236.48 355.74,189.05 368.18,231.39" fill="none" stroke="#0093ff" stroke-width="0.7" stroke-opacity="0.7"/>
<polyline points="281.10,232.18 293.54,212.10 305.98,231.25 318.42,232.96 330.86,238.43 343.30,236.12 355.74,195.27 368.18,208.88" fill="none" stroke="#007bff" stroke-width="0.7" stroke-opacity="0.7"/>
<polyline points="281.10,225.03 293.54,249.04 305.98,201.38 318.42,229.93 330.86,231.31 343.30,217.53 355.74,202.93 368.18,230.05" fill="none" stroke="#0073ff" stroke-width="0.7" stroke-opacity="0.7"/>
<polyline points="281.10,234.88 293.54,234.96 305.98,218.28 318.42,237.38 330.86,219.71 343.30,230.37 355.74,188.79 368.18,222.82" fill="none" stroke="#005cff" stroke-width="0.7" stroke-opacity="0.7"/>
<polyline points="281.10,221.24 293.54,240.00 305.98,226.66 318.42,229.60 330.86,226.55 343.30,216.96 355.74,189.07 368.18,237.12" fill="none" stroke="#0059ff" stroke-width="0.7" stroke-opacity="0.7"/>
<polyline points="281.10,230.68 293.54,234.99 305.98,238.47 318.42,225.39 330.86,216.56 343.30,227.18 355.74,187.89 368.18,226.03" fill="none" stroke="#0053ff" stroke-width="0.7" stroke-opacity="0.7"/>
<polyline points="281.10,214.01 293.54,219.26 305.98,217.50 318.42,227.60 330.86,231.43 343.30,239.05 355.74,194.23 368.18,244.12" fill="none" stroke="#0046ff" stroke-width="0.7" stroke-opacity="0.7"/>
<polyline points="281.10,231.00 293.54,224.00 305.98,236.66 318.42,227.35 330.86,222.44 343.30,225.20 355.74,186.30 368.18,234.26" fill="none" stroke="#003bff" stroke-width="0.7" stroke-opacity="0.7"/>
<polyline points="281.10,242.41 293.54,223.64 305.98,220.75 318.42,229.06 330.86,228.09 343.30,215.89 355.74,190.44 368.18,236.91" fill="none" stroke="#001dff" stroke-width="0.7" stroke-opacity="0.7"/>
<polyline points="281.10,233.50 293.54,230.65 305.98,228.09 318.42,238.06 330.86,225.74 343.30,221.90 355.74,186.69 368.18,222.57" fill="none" stroke="#0007ff" stroke-width="0.7" stroke-opacity="0.7"/>
<polyline points="281.10,221.70 293.54,232.91 305.98,229.80 318.42,230.48 330.86,238.34 343.30,219.13 355.74,187.29 368.18,227.55" fill="none" stroke="#0002ff" stroke-width="0.7" stroke-opacity="0.7"/>
<polyline points="281.10,226.79 293.54,238.72 305.98,217.27 318.42,239.68 330.86,226.61 343.30,227.62 355.74,189.25 368.18,221.26" fill="none" stroke="#0002ff" stroke-width="0.7" stroke-opacity="0.7"/>
<polyline points="281.10,224.80 293.54,225.98 305.98,228.07 318.42,237.84 330.86,217.78 343.30,244.57 355.74,192.20 368.18,215.96" fill="none" stroke="#2200ff" stroke-width="0.7" stroke-opacity="0.7"/>
<polyline points="281.10,229.96 293.54,229.74 305.98,226.86 318.42,228.53 330.86,234.60 343.30,222.61 355.74,185.19 368.18,229.72" fill="none" stroke="#2700ff" stroke-width="0.7" stroke-opacity="0.7"/>
<polyline points="281.10,228.38 293.54,225.42 305.98,238.35 318.42,220.69 330.86,232.57 343.30,222.68 355.74,186.97 368.18,232.13" fill="none" stroke="#4000ff" stroke-width="0.7" stroke-opacity="0.7"/>
<polyline points="281.10,217.73 293.54,231.79 305.98,229.12 318.42,230.55 330.86,225.28 343.30,236.48 355.74,186.68 368.18,229.58" fill="none" stroke="#4a00ff" stroke-width="0.7" stroke-opacity="0.7"/>
<polyline points="281.10,223.16 293.54,223.38 305.98,224.57 318.42,234.94 330.86,241.51 343.30,228.83 355.74,187.97 368.18,222.83" fill="none" stroke="#5000ff" stroke-width="0.7" stroke-opacity="0.7"/>
<polyline points="281.10,230.84 293.54,226.47 305.98,217.57 318.42,221.26 330.86,237.11 343.30,242.59 355.74,190.52 368.18,220.85" fill="none" stroke="#5800ff" stroke-width="0.7" stroke-opacity="0.7"/>
<polyline points="281.10,223.87 293.54,231.22 305.98,226.61 318.42,234.80 330.86,232.87 343.30,223.62 355.74,185.60 368.18,228.61" fill="none" stroke="#6500ff" stroke-width="0.7" stroke-opacity="0.7"/>
<polyline points="281.10,228.45 293.54,228.42 305.98,238.81 318.42,224.16 330.86,230.70 343.30,226.95 355.74,186.08 368.18,223.62" fill="none" stroke="#6d00ff" stroke-width="0.7" stroke-opacity="0.7"/>
<polyline points="281.10,233.93 293.54,228.43 305.98,223.57 318.42,227.92 330.86,230.07 343.30,233.81 355.74,185.49 368.18,223.98" fill="none" stroke="#6e00ff" stroke-width="0.7" stroke-opacity="0.7"/>
<polyline points="281.10,227.11 293.54,223.88 305.98,226.35 318.42,233.24 330.86,228.13 343.30,232.96 355.74,185.12 368.18,230.41" fill="none" stroke="#9900ff" stroke-width="0.7" stroke-opacity="0.7"/>
<polyline points="281.10,228.59 293.54,227.02 305.98,232.58 318.42,230.07 330.86,228.19 343.30,227.93 355.74,184.52 368.18,228.30" fill="none" stroke="#ac00ff" stroke-width="0.7" stroke-opacity="0.8"/>
<polyline points="281.10,232.03 293.54,228.20 305.98,226.81 318.42,230.22 330.86,227.82 343.30,227.89 355.74,184.51 368.18,229.72" fill="none" stroke="#b700ff" stroke-width="0.7" stroke-opacity="0.8"/>
<polyline points="281.10,231.26 293.54,228.76 305.98,232.36 318.42,227.55 330.86,227.38 343.30,229.31 355.74,184.64 368.18,225.94" fill="none" stroke="#d200ff" stroke-width="0.7" stroke-opacity="0.8"/>
<polyline points="281.10,225.42 293.54,227.63 305.98,232.55 318.42,234.84 330.86,228.83 343.30,226.00 355.74,185.15 368.18,226.78" fill="none" stroke="#e100ff" stroke-width="0.7" stroke-opacity="0.8"/>
<polyline points="281.10,225.07 293.54,228.78 305.98,226.70 318.42,230.75 330.86,227.83 343.30,231.31 355.74,184.74 368.18,232.02" fill="none" stroke="#e400ff" stroke-width="0.7" stroke-opacity="0.8"/>
<polyline points="281.10,230.13 293.54,225.52 305.98,230.71 318.42,230.26 330.86,231.08 343.30,226.90 355.74,184.61 368.18,227.99" fill="none" stroke="#e800ff" stroke-width="0.7" stroke-opacity="0.8"/>
<polyline points="281.10,232.58 293.54,226.77 305.98,228.56 318.42,226.95 330.86,232.63 343.30,228.33 355.74,184.76 368.18,226.61" fill="none" stroke="#eb00ff" stroke-width="0.7" stroke-opacity="0.8"/>
<polyline points="281.10,227.89 293.54,230.05 305.98,229.15 318.42,231.46 330.86,227.99 343.30,230.14 355.74,184.52 368.18,226.01" fill="none" stroke="#f000ff" stroke-width="0.7" stroke-opacity="0.8"/>
<polyline points="281.10,228.26 293.54,226.15 305.98,230.58 318.42,226.68 330.86,229.66 343.30,225.23 355.74,185.13 368.18,235.52" fill="none" stroke="#fc00ff" stroke-width="0.7" stroke-opacity="0.8"/>
<polyline points="281.10,230.53 293.54,230.47 305.98,225.26 318.42,228.74 330.86,230.96 343.30,231.70 355.74,184.84 368.18,224.69" fill="none" stroke="#ff00fe" stroke-width="0.7" stroke-opacity="0.8"/>
<polyline points="281.10,228.86 293.54,230.51 305.98,229.36 318.42,226.51 330.86,231.44 343.30,227.15 355.74,184.50 368.18,228.87" fill="none" stroke="#ff00fc" stroke-width="0.7" stroke-opacity="0.8"/>
</g>
<line x1="280.60" y1="266.40" x2="368.68" y2="266.40" stroke="#1a1a1a" stroke-width="1.2"/>
<line x1="281.10" y1="266.40" x2="281.10" y2="269.40" stroke="#1a1a1a" stroke-width="1.1"/>
<line x1="293.54" y1="266.40" x2="293.54" y2="269.40" stroke="#1a1a1a" stroke-width="1.1"/>
<line x1="305.98" y1="266.40" x2="305.98" y2="269.40" stroke="#1a1a1a" stroke-width="1.1"/>
<line x1="318.42" y1="266.40" x2="318.42" y2="269.40" stroke="#1a1a1a" stroke-width="1.1"/>
<line x1="330.86" y1="266.40" x2="330.86" y2="269.40" stroke="#1a1a1a" stroke-width="1.1"/>
<line x1="343.30" y1="266.40" x2="343.30" y2="269.40" stroke="#1a1a1a" stroke-width="1.1"/>
<line x1="355.74" y1="266.40" x2="355.74" y2="269.40" stroke="#1a1a1a" stroke-width="1.1"/>
<line x1="368.18" y1="266.40" x2="368.18" y2="269.40" stroke="#1a1a1a" stroke-width="1.1"/>
<text x="81.60" y="281.30" font-size="8.8" text-anchor="middle" fill="#000" font-weight="normal" font-family="Liberation Serif" stroke="#000" stroke-width="0.22" xml:space="preserve">Cluster 4  80</text>
<line x1="31.10" y1="291.90" x2="31.10" y2="356.10" stroke="#1a1a1a" stroke-width="1.2"/>
<line x1="26.50" y1="292.40" x2="31.10" y2="292.40" stroke="#1a1a1a" stroke-width="1.2"/>
<text x="21.70" y="295.10" font-size="8.2" text-anchor="end" fill="#000" font-weight="normal" font-family="Liberation Serif" stroke="#000" stroke-width="0.2">2</text>
<line x1="26.50" y1="308.20" x2="31.10" y2="308.20" stroke="#1a1a1a" stroke-width="1.2"/>
<text x="21.70" y="310.90" font-size="8.2" text-anchor="end" fill="#000" font-weight="normal" font-family="Liberation Serif" stroke="#000" stroke-width="0.2">1</text>
<line x1="26.50" y1="324.00" x2="31.10" y2="324.00" stroke="#1a1a1a" stroke-width="1.2"/>
<text x="21.70" y="326.70" font-size="8.2" text-anchor="end" fill="#000" font-weight="normal" font-family="Liberation Serif" stroke="#000" stroke-width="0.2">0</text>
<line x1="26.50" y1="339.80" x2="31.10" y2="339.80" stroke="#1a1a1a" stroke-width="1.2"/>
<text x="21.70" y="342.50" font-size="8.2" text-anchor="end" fill="#000" font-weight="normal" font-family="Liberation Serif" stroke="#000" stroke-width="0.2">-1</text>
<line x1="26.50" y1="355.60" x2="31.10" y2="355.60" stroke="#1a1a1a" stroke-width="1.2"/>
<text x="21.70" y="358.30" font-size="8.2" text-anchor="end" fill="#000" font-weight="normal" font-family="Liberation Serif" stroke="#000" stroke-width="0.2">-2</text>
<g>
<polyline points="34.30,335.69 46.60,296.58 58.90,328.95 71.20,315.27 83.50,329.55 95.80,317.33 108.10,330.00 120.40,302.69" fill="none" stroke="#88ff00" stroke-width="0.7" stroke-opacity="0.7"/>
<polyline points="34.30,336.32 46.60,305.06 58.90,342.26 71.20,313.61 83.50,321.33 95.80,320.52 108.10,332.23 120.40,312.41" fill="none" stroke="#29e000" stroke-width="0.7" stroke-opacity="0.7"/>
<polyline points="34.30,318.34 46.60,329.21 58.90,302.81 71.20,324.10 83.50,322.74 95.80,329.23 108.10,318.36 120.40,313.24" fill="none" stroke="#1fe000" stroke-width="0.7" stroke-opacity="0.7"/>
<polyline points="34.30,317.65 46.60,356.93 58.90,319.22 71.20,316.01 83.50,315.36 95.80,320.44 108.10,320.41 120.40,309.79" fill="none" stroke="#1de000" stroke-width="0.7" stroke-opacity="0.75"/>
<polyline points="34.30,316.28 46.60,312.63 58.90,313.51 71.20,360.42 83.50,299.49 95.80,322.27 108.10,324.36 120.40,318.03" fill="none" stroke="#1ce000" stroke-width="0.7" stroke-opacity="0.75"/>
<polyline points="34.30,316.99 46.60,334.22 58.90,294.29 71.20,329.22 83.50,319.07 95.80,331.46 108.10,324.10 120.40,315.96" fill="none" stroke="#14e000" stroke-width="0.7" stroke-opacity="0.75"/>
<polyline points="34.30,319.06 46.60,359.32 58.90,316.41 71.20,314.38 83.50,315.72 95.80,321.52 108.10,321.33 120.40,313.62" fill="none" stroke="#10e000" stroke-width="0.7" stroke-opacity="0.75"/>
<polyline points="34.30,322.68 46.60,322.09 58.90,316.11 71.20,303.54 83.50,321.04 95.80,352.08 108.10,317.29 120.40,310.24" fill="none" stroke="#0de000" stroke-width="0.7" stroke-opacity="0.75"/>
<polyline points="34.30,318.89 46.60,310.13 58.90,320.04 71.20,355.45 83.50,303.85 95.80,321.43 108.10,328.00 120.40,319.04" fill="none" stroke="#0ce000" stroke-width="0.7" stroke-opacity="0.75"/>
<polyline points="34.30,320.04 46.60,333.99 58.90,293.96 71.20,330.33 83.50,319.94 95.80,333.74 108.10,318.91 120.40,318.86" fill="none" stroke="#00e000" stroke-width="0.7" stroke-opacity="0.75"/>
<polyline points="34.30,315.69 46.60,314.57 58.90,318.51 71.20,360.33 83.50,299.00 95.80,322.68 108.10,326.99 120.40,309.65" fill="none" stroke="#00e000" stroke-width="0.7" stroke-opacity="0.75"/>
<polyline points="34.30,319.74 46.60,344.82 58.90,318.30 71.20,313.14 83.50,308.33 95.80,320.33 108.10,324.74 120.40,314.38" fill="none" stroke="#00e00a" stroke-width="0.7" stroke-opacity="0.7"/>
<polyline points="34.30,311.82 46.60,332.17 58.90,323.93 71.20,320.12 83.50,341.27 95.80,320.61 108.10,329.15 120.40,294.53" fill="none" stroke="#00e00c" stroke-width="0.7" stroke-opacity="0.7"/>
<polyline points="34.30,320.93 46.60,319.48 58.90,316.39 71.20,299.33 83.50,322.14 95.80,351.57 108.10,315.79 120.40,314.23" fill="none" stroke="#00e01e" stroke-width="0.7" stroke-opacity="0.75"/>
<polyline points="34.30,317.68 46.60,315.38 58.90,332.99 71.20,319.91 83.50,329.53 95.80,323.53 108.10,328.44 120.40,308.35" fill="none" stroke="#00e01e" stroke-width="0.7" stroke-opacity="0.7"/>
<polyline points="34.30,321.37 46.60,330.06 58.90,297.42 71.20,329.55 83.50,320.34 95.80,337.00 108.10,320.09 120.40,314.10" fill="none" stroke="#00e020" stroke-width="0.7" stroke-opacity="0.75"/>
<polyline points="34.30,324.41 46.60,353.90 58.90,313.61 71.20,314.88 83.50,315.29 95.80,322.61 108.10,327.73 120.40,305.92" fill="none" stroke="#00e02c" stroke-width="0.7" stroke-opacity="0.7"/>
<polyline points="34.30,321.16 46.60,360.15 58.90,318.02 71.20,315.46 83.50,316.06 95.80,312.47 108.10,321.97 120.40,323.00" fill="none" stroke="#00e039" stroke-width="0.7" stroke-opacity="0.7"/>
<polyline points="34.30,324.40 46.60,324.02 58.90,294.18 71.20,324.60 83.50,319.48 95.80,324.72 108.10,318.88 120.40,322.15" fill="none" stroke="#00e042" stroke-width="0.7" stroke-opacity="0.7"/>
<polyline points="34.30,351.25 46.60,299.61 58.90,334.44 71.20,323.86 83.50,324.29 95.80,315.82 108.10,320.90 120.40,297.88" fill="none" stroke="#00e057" stroke-width="0.7" stroke-opacity="0.7"/>
<polyline points="34.30,322.08 46.60,322.66 58.90,329.98 71.20,322.90 83.50,343.61 95.80,317.09 108.10,329.19 120.40,305.44" fill="none" stroke="#00e058" stroke-width="0.7" stroke-opacity="0.7"/>
<polyline points="34.30,312.93 46.60,318.93 58.90,328.71 71.20,320.79 83.50,333.10 95.80,322.48 108.10,334.78 120.40,296.45" fill="none" stroke="#00e05d" stroke-width="0.7" stroke-opacity="0.7"/>
<polyline points="34.30,323.73 46.60,352.04 58.90,310.42 71.20,324.67 83.50,311.92 95.80,326.26 108.10,321.44 120.40,306.24" fill="none" stroke="#00e05f" stroke-width="0.7" stroke-opacity="0.7"/>
<polyline points="34.30,320.96 46.60,340.18 58.90,328.35 71.20,317.28 83.50,327.81 95.80,322.11 108.10,328.91 120.40,316.62" fill="none" stroke="#00e065" stroke-width="0.7" stroke-opacity="0.7"/>
<polyline points="34.30,314.05 46.60,322.88 58.90,338.16 71.20,316.72 83.50,333.47 95.80,320.31 108.10,330.56 120.40,301.09" fill="none" stroke="#00e08d" stroke-width="0.7" stroke-opacity="0.75"/>
<polyline points="34.30,317.35 46.60,316.69 58.90,324.37 71.20,359.95 83.50,303.50 95.80,320.71 108.10,319.40 120.40,316.17" fill="none" stroke="#00e08f" stroke-width="0.7" stroke-opacity="0.7"/>
<polyline points="34.30,321.71 46.60,320.55 58.90,320.08 71.20,325.12 83.50,326.36 95.80,305.97 108.10,338.89 120.40,319.89" fill="none" stroke="#00e091" stroke-width="0.7" stroke-opacity="0.7"/>
<polyline points="34.30,322.22 46.60,330.72 58.90,306.91 71.20,314.09 83.50,321.14 95.80,325.76 108.10,328.38 120.40,321.36" fill="none" stroke="#00e092" stroke-width="0.7" stroke-opacity="0.7"/>
<polyline points="34.30,351.41 46.60,335.09 58.90,328.98 71.20,309.66 83.50,324.06 95.80,322.12 108.10,321.87 120.40,298.80" fill="none" stroke="#00e0aa" stroke-width="0.7" stroke-opacity="0.7"/>
<polyline points="34.30,309.88 46.60,318.26 58.90,327.91 71.20,316.41 83.50,336.32 95.80,314.78 108.10,332.84 120.40,301.67" fill="none" stroke="#00e0b6" stroke-width="0.7" stroke-opacity="0.75"/>
<polyline points="34.30,321.75 46.60,334.03 58.90,342.41 71.20,345.97 83.50,310.38 95.80,322.42 108.10,300.85 120.40,314.19" fill="none" stroke="#00ffeb" stroke-width="0.7" stroke-opacity="0.7"/>
<polyline points="34.30,322.61 46.60,314.49 58.90,320.63 71.20,314.09 83.50,317.84 95.80,301.90 108.10,356.20 120.40,313.28" fill="none" stroke="#00ffee" stroke-width="0.7" stroke-opacity="0.75"/>
<polyline points="34.30,319.76 46.60,311.30 58.90,349.16 71.20,315.19 83.50,328.00 95.80,333.10 108.10,336.19 120.40,299.30" fill="none" stroke="#00fffc" stroke-width="0.7" stroke-opacity="0.7"/>
<polyline points="34.30,323.64 46.60,324.28 58.90,337.31 71.20,314.14 83.50,323.31 95.80,344.77 108.10,331.86 120.40,292.70" fill="none" stroke="#00faff" stroke-width="0.7" stroke-opacity="0.7"/>
<polyline points="34.30,349.24 46.60,295.97 58.90,326.38 71.20,317.70 83.50,331.05 95.80,317.69 108.10,334.96 120.40,309.43" fill="none" stroke="#00f4ff" stroke-width="0.7" stroke-opacity="0.75"/>
<polyline points="34.30,321.43 46.60,316.64 58.90,324.88 71.20,310.60 83.50,319.67 95.80,301.77 108.10,350.25 120.40,311.00" fill="none" stroke="#00f2ff" stroke-width="0.7" stroke-opacity="0.75"/>
<polyline points="34.30,347.13 46.60,295.00 58.90,326.59 71.20,318.51 83.50,325.95 95.80,321.22 108.10,328.14 120.40,314.32" fill="none" stroke="#00efff" stroke-width="0.7" stroke-opacity="0.75"/>
<polyline points="34.30,322.24 46.60,333.82 58.90,331.23 71.20,317.71 83.50,332.05 95.80,330.58 108.10,336.37 120.40,288.01" fill="none" stroke="#00e3ff" stroke-width="0.7" stroke-opacity="0.7"/>
<polyline points="34.30,318.50 46.60,313.94 58.90,336.62 71.20,328.67 83.50,321.96 95.80,351.15 108.10,323.48 120.40,297.67" fill="none" stroke="#00c4ff" stroke-width="0.7" stroke-opacity="0.7"/>
<polyline points="34.30,332.36 46.60,328.14 58.90,338.49 71.20,329.35 83.50,332.87 95.80,327.10 108.10,315.12 120.40,288.57" fill="none" stroke="#00c3ff" stroke-width="0.7" stroke-opacity="0.7"/>
<polyline points="34.30,334.62 46.60,340.14 58.90,325.19 71.20,326.36 83.50,318.76 95.80,337.60 108.10,318.94 120.40,290.39" fill="none" stroke="#00c1ff" stroke-width="0.7" stroke-opacity="0.7"/>
<polyline points="34.30,324.20 46.60,344.02 58.90,329.34 71.20,316.18 83.50,322.92 95.80,330.28 108.10,334.37 120.40,290.70" fill="none" stroke="#00b6ff" stroke-width="0.7" stroke-opacity="0.7"/>
<polyline points="34.30,346.35 46.60,333.85 58.90,312.23 71.20,327.31 83.50,307.16 95.80,318.21 108.10,341.93 120.40,304.95" fill="none" stroke="#00a1ff" stroke-width="0.7" stroke-opacity="0.7"/>
<polyline points="34.30,326.93 46.60,318.78 58.90,334.61 71.20,333.39 83.50,328.56 95.80,332.02 108.10,330.85 120.40,286.87" fill="none" stroke="#0096ff" stroke-width="0.7" stroke-opacity="0.7"/>
<polyline points="34.30,339.37 46.60,317.21 58.90,346.83 71.20,307.82 83.50,315.09 95.80,329.61 108.10,333.85 120.40,302.22" fill="none" stroke="#007bff" stroke-width="0.7" stroke-opacity="0.7"/>
<polyline points="34.30,311.97 46.60,337.75 58.90,322.11 71.20,343.35 83.50,318.45 95.80,333.79 108.10,330.11 120.40,294.48" fill="none" stroke="#0067ff" stroke-width="0.7" stroke-opacity="0.7"/>
<polyline points="34.30,325.75 46.60,339.16 58.90,319.96 71.20,335.46 83.50,322.94 95.80,319.55 108.10,338.77 120.40,290.41" fill="none" stroke="#005aff" stroke-width="0.7" stroke-opacity="0.7"/>
<polyline points="34.30,326.59 46.60,314.26 58.90,350.79 71.20,318.83 83.50,309.96 95.80,340.71 108.10,327.21 120.40,303.64" fill="none" stroke="#0020ff" stroke-width="0.7" stroke-opacity="0.7"/>
<polyline points="34.30,327.49 46.60,328.70 58.90,322.29 71.20,330.89 83.50,330.41 95.80,331.09 108.10,335.17 120.40,285.97" fill="none" stroke="#0018ff" stroke-width="0.7" stroke-opacity="0.7"/>
<polyline points="34.30,337.13 46.60,335.27 58.90,334.79 71.20,320.65 83.50,327.78 95.80,321.84 108.10,326.54 120.40,288.01" fill="none" stroke="#000cff" stroke-width="0.7" stroke-opacity="0.7"/>
<polyline points="34.30,318.25 46.60,342.26 58.90,336.38 71.20,326.52 83.50,325.55 95.80,330.50 108.10,322.83 120.40,289.71" fill="none" stroke="#0003ff" stroke-width="0.7" stroke-opacity="0.7"/>
<polyline points="34.30,331.99 46.60,320.00 58.90,335.49 71.20,327.37 83.50,334.69 95.80,328.64 108.10,326.96 120.40,286.86" fill="none" stroke="#1200ff" stroke-width="0.7" stroke-opacity="0.7"/>
<polyline points="34.30,334.35 46.60,314.14 58.90,320.15 71.20,338.74 83.50,324.60 95.80,326.90 108.10,340.97 120.40,292.15" fill="none" stroke="#3d00ff" stroke-width="0.7" stroke-opacity="0.7"/>
<polyline points="34.30,320.01 46.60,323.45 58.90,326.57 71.20,338.20 83.50,316.68 95.80,321.41 108.10,349.86 120.40,295.82" fill="none" stroke="#4c00ff" stroke-width="0.7" stroke-opacity="0.7"/>
<polyline points="34.30,327.38 46.60,316.87 58.90,350.94 71.20,324.72 83.50,324.36 95.80,332.65 108.10,320.63 120.40,294.46" fill="none" stroke="#5000ff" stroke-width="0.7" stroke-opacity="0.7"/>
<polyline points="34.30,329.06 46.60,327.95 58.90,320.39 71.20,329.97 83.50,329.47 95.80,342.94 108.10,323.85 120.40,288.38" fill="none" stroke="#5100ff" stroke-width="0.7" stroke-opacity="0.7"/>
<polyline points="34.30,329.26 46.60,324.24 58.90,327.74 71.20,332.65 83.50,329.45 95.80,330.55 108.10,332.63 120.40,285.48" fill="none" stroke="#6a00ff" stroke-width="0.7" stroke-opacity="0.7"/>
<polyline points="34.30,346.81 46.60,319.41 58.90,329.14 71.20,326.38 83.50,323.81 95.80,337.94 108.10,314.23 120.40,294.27" fill="none" stroke="#7c00ff" stroke-width="0.7" stroke-opacity="0.7"/>
<polyline points="34.30,325.89 46.60,334.42 58.90,328.80 71.20,325.43 83.50,329.66 95.80,332.69 108.10,329.49 120.40,285.62" fill="none" stroke="#9b00ff" stroke-width="0.7" stroke-opacity="0.7"/>
<polyline points="34.30,328.61 46.60,335.42 58.90,334.30 71.20,328.06 83.50,327.53 95.80,329.89 108.10,321.91 120.40,286.29" fill="none" stroke="#aa00ff" stroke-width="0.7" stroke-opacity="0.7"/>
<polyline points="34.30,330.73 46.60,325.01 58.90,331.66 71.20,333.83 83.50,332.41 95.80,326.06 108.10,326.56 120.40,285.73" fill="none" stroke="#dc00ff" stroke-width="0.7" stroke-opacity="0.7"/>
<polyline points="34.30,323.47 46.60,327.69 58.90,324.96 71.20,333.65 83.50,331.89 95.80,334.91 108.10,329.27 120.40,286.18" fill="none" stroke="#ff00f6" stroke-width="0.7" stroke-opacity="0.7"/>
<polyline points="34.30,328.19 46.60,329.90 58.90,332.41 71.20,327.07 83.50,331.21 95.80,329.92 108.10,328.17 120.40,285.13" fill="none" stroke="#ff00dc" stroke-width="0.7" stroke-opacity="0.7"/>
<polyline points="34.30,324.71 46.60,333.74 58.90,329.00 71.20,326.95 83.50,333.25 95.80,330.53 108.10,328.19 120.40,285.62" fill="none" stroke="#ff00d8" stroke-width="0.7" stroke-opacity="0.7"/>
<polyline points="34.30,331.27 46.60,327.67 58.90,330.10 71.20,329.33 83.50,330.24 95.80,331.30 108.10,327.01 120.40,285.09" fill="none" stroke="#ff00c9" stroke-width="0.7" stroke-opacity="0.7"/>
<polyline points="34.30,330.70 46.60,326.27 58.90,327.12 71.20,325.75 83.50,334.18 95.80,332.69 108.10,329.68 120.40,285.62" fill="none" stroke="#ff00c4" stroke-width="0.7" stroke-opacity="0.8"/>
<polyline points="34.30,329.03 46.60,327.71 58.90,335.50 71.20,329.10 83.50,330.29 95.80,328.42 108.10,326.48 120.40,285.47" fill="none" stroke="#ff00c2" stroke-width="0.7" stroke-opacity="0.8"/>
<polyline points="34.30,326.29 46.60,328.50 58.90,328.31 71.20,329.57 83.50,331.14 95.80,333.11 108.10,329.86 120.40,285.22" fill="none" stroke="#ff00b9" stroke-width="0.7" stroke-opacity="0.8"/>
<polyline points="34.30,327.69 46.60,324.91 58.90,328.64 71.20,332.58 83.50,327.70 95.80,335.56 108.10,329.18 120.40,285.74" fill="none" stroke="#ff00a9" stroke-width="0.7" stroke-opacity="0.8"/>
<polyline points="34.30,325.76 46.60,323.83 58.90,332.95 71.20,330.11 83.50,326.34 95.80,329.91 108.10,336.81 120.40,286.28" fill="none" stroke="#ff00a7" stroke-width="0.7" stroke-opacity="0.8"/>
<polyline points="34.30,329.85 46.60,330.04 58.90,327.45 71.20,332.38 83.50,323.18 95.80,332.51 108.10,330.96 120.40,285.62" fill="none" stroke="#ff009c" stroke-width="0.7" stroke-opacity="0.8"/>
<polyline points="34.30,327.55 46.60,329.13 58.90,331.01 71.20,329.18 83.50,329.87 95.80,331.19 108.10,329.06 120.40,285.00" fill="none" stroke="#ff009a" stroke-width="0.7" stroke-opacity="0.8"/>
<polyline points="34.30,329.72 46.60,328.84 58.90,330.10 71.20,328.26 83.50,327.68 95.80,329.33 108.10,332.97 120.40,285.10" fill="none" stroke="#ff0099" stroke-width="0.7" stroke-opacity="0.8"/>
<polyline points="34.30,330.01 46.60,329.08 58.90,333.06 71.20,331.18 83.50,329.25 95.80,327.36 108.10,326.85 120.40,285.21" fill="none" stroke="#ff0097" stroke-width="0.7" stroke-opacity="0.8"/>
<polyline points="34.30,334.31 46.60,328.09 58.90,326.50 71.20,329.16 83.50,326.06 95.80,331.28 108.10,331.12 120.40,285.48" fill="none" stroke="#ff0088" stroke-width="0.7" stroke-opacity="0.8"/>
<polyline points="34.30,329.68 46.60,329.13 58.90,327.63 71.20,330.51 83.50,334.43 95.80,328.07 108.10,327.26 120.40,285.30" fill="none" stroke="#ff0086" stroke-width="0.7" stroke-opacity="0.8"/>
<polyline points="34.30,327.44 46.60,328.09 58.90,328.78 71.20,324.09 83.50,331.85 95.80,330.51 108.10,335.46 120.40,285.78" fill="none" stroke="#ff007e" stroke-width="0.7" stroke-opacity="0.8"/>
<polyline points="34.30,328.89 46.60,329.37 58.90,330.23 71.20,330.50 83.50,329.66 95.80,326.46 108.10,331.80 120.40,285.08" fill="none" stroke="#ff0075" stroke-width="0.7" stroke-opacity="0.8"/>
<polyline points="34.30,327.03 46.60,328.17 58.90,331.15 71.20,328.14 83.50,333.82 95.80,331.31 108.10,327.03 120.40,285.35" fill="none" stroke="#ff0072" stroke-width="0.7" stroke-opacity="0.8"/>
<polyline points="34.30,327.88 46.60,328.59 58.90,333.67 71.20,327.43 83.50,330.95 95.80,332.56 108.10,325.42 120.40,285.50" fill="none" stroke="#ff006b" stroke-width="0.7" stroke-opacity="0.8"/>
</g>
<line x1="33.80" y1="365.20" x2="120.90" y2="365.20" stroke="#1a1a1a" stroke-width="1.2"/>
<line x1="34.30" y1="365.20" x2="34.30" y2="368.20" stroke="#1a1a1a" stroke-width="1.1"/>
<line x1="46.60" y1="365.20" x2="46.60" y2="368.20" stroke="#1a1a1a" stroke-width="1.1"/>
<line x1="58.90" y1="365.20" x2="58.90" y2="368.20" stroke="#1a1a1a" stroke-width="1.1"/>
<line x1="71.20" y1="365.20" x2="71.20" y2="368.20" stroke="#1a1a1a" stroke-width="1.1"/>
<line x1="83.50" y1="365.20" x2="83.50" y2="368.20" stroke="#1a1a1a" stroke-width="1.1"/>
<line x1="95.80" y1="365.20" x2="95.80" y2="368.20" stroke="#1a1a1a" stroke-width="1.1"/>
<line x1="108.10" y1="365.20" x2="108.10" y2="368.20" stroke="#1a1a1a" stroke-width="1.1"/>
<line x1="120.40" y1="365.20" x2="120.40" y2="368.20" stroke="#1a1a1a" stroke-width="1.1"/>
<text transform="translate(38.30,372.40) rotate(-45) scale(0.9,1)" font-size="9.4" text-anchor="end" fill="#111" stroke="#000" stroke-width="0.2" font-family="Liberation Serif">APDS_2h</text>
<text transform="translate(50.60,372.40) rotate(-45) scale(0.9,1)" font-size="9.4" text-anchor="end" fill="#111" stroke="#000" stroke-width="0.2" font-family="Liberation Serif">APDS_6h</text>
<text transform="translate(62.90,372.40) rotate(-45) scale(0.9,1)" font-size="9.4" text-anchor="end" fill="#111" stroke="#000" stroke-width="0.2" font-family="Liberation Serif">APDS_12h</text>
<text transform="translate(75.20,372.40) rotate(-45) scale(0.9,1)" font-size="9.4" text-anchor="end" fill="#111" stroke="#000" stroke-width="0.2" font-family="Liberation Serif">APDS_24h</text>
<text transform="translate(87.50,372.40) rotate(-45) scale(0.9,1)" font-size="9.4" text-anchor="end" fill="#111" stroke="#000" stroke-width="0.2" font-family="Liberation Serif">UPDS_2h</text>
<text transform="translate(99.80,372.40) rotate(-45) scale(0.9,1)" font-size="9.4" text-anchor="end" fill="#111" stroke="#000" stroke-width="0.2" font-family="Liberation Serif">UPDS_6h</text>
<text transform="translate(112.10,372.40) rotate(-45) scale(0.9,1)" font-size="9.4" text-anchor="end" fill="#111" stroke="#000" stroke-width="0.2" font-family="Liberation Serif">UPDS_12h</text>
<text transform="translate(124.40,372.40) rotate(-45) scale(0.9,1)" font-size="9.4" text-anchor="end" fill="#111" stroke="#000" stroke-width="0.2" font-family="Liberation Serif">UPDS_24h</text>
<text x="202.00" y="281.30" font-size="8.8" text-anchor="middle" fill="#000" font-weight="normal" font-family="Liberation Serif" stroke="#000" stroke-width="0.22" xml:space="preserve">Cluster 5  89</text>
<line x1="151.60" y1="291.60" x2="151.60" y2="355.80" stroke="#1a1a1a" stroke-width="1.2"/>
<line x1="147.00" y1="292.10" x2="151.60" y2="292.10" stroke="#1a1a1a" stroke-width="1.2"/>
<line x1="147.00" y1="307.90" x2="151.60" y2="307.90" stroke="#1a1a1a" stroke-width="1.2"/>
<line x1="147.00" y1="323.70" x2="151.60" y2="323.70" stroke="#1a1a1a" stroke-width="1.2"/>
<line x1="147.00" y1="339.50" x2="151.60" y2="339.50" stroke="#1a1a1a" stroke-width="1.2"/>
<line x1="147.00" y1="355.30" x2="151.60" y2="355.30" stroke="#1a1a1a" stroke-width="1.2"/>
<g>
<polyline points="155.00,316.59 167.30,319.37 179.60,355.03 191.90,303.39 204.20,313.20 216.50,322.18 228.80,316.96 241.10,328.03" fill="none" stroke="#acff00" stroke-width="0.7" stroke-opacity="0.75"/>
<polyline points="155.00,313.25 167.30,323.46 179.60,328.99 191.90,304.92 204.20,317.86 216.50,317.64 228.80,338.89 241.10,322.58" fill="none" stroke="#92ff00" stroke-width="0.7" stroke-opacity="0.7"/>
<polyline points="155.00,326.22 167.30,323.19 179.60,330.84 191.90,293.58 204.20,326.29 216.50,353.11 228.80,320.15 241.10,325.24" fill="none" stroke="#86ff00" stroke-width="0.7" stroke-opacity="0.7"/>
<polyline points="155.00,312.29 167.30,326.46 179.60,335.62 191.90,294.50 204.20,327.17 216.50,341.20 228.80,321.63 241.10,320.23" fill="none" stroke="#84ff00" stroke-width="0.7" stroke-opacity="0.7"/>
<polyline points="155.00,316.39 167.30,313.83 179.60,338.92 191.90,300.60 204.20,325.87 216.50,358.73 228.80,322.49 241.10,324.31" fill="none" stroke="#80ff00" stroke-width="0.7" stroke-opacity="0.7"/>
<polyline points="155.00,328.65 167.30,327.71 179.60,322.85 191.90,299.16 204.20,331.82 216.50,318.55 228.80,302.49 241.10,333.90" fill="none" stroke="#64e000" stroke-width="0.7" stroke-opacity="0.7"/>
<polyline points="155.00,321.30 167.30,315.84 179.60,315.51 191.90,302.56 204.20,317.68 216.50,321.68 228.80,358.05 241.10,323.67" fill="none" stroke="#64e000" stroke-width="0.7" stroke-opacity="0.7"/>
<polyline points="155.00,315.72 167.30,317.28 179.60,363.17 191.90,305.29 204.20,319.57 216.50,321.42 228.80,321.76 241.10,328.27" fill="none" stroke="#61e000" stroke-width="0.7" stroke-opacity="0.75"/>
<polyline points="155.00,320.23 167.30,328.23 179.60,323.81 191.90,310.32 204.20,328.56 216.50,317.83 228.80,303.36 241.10,339.13" fill="none" stroke="#56e000" stroke-width="0.7" stroke-opacity="0.7"/>
<polyline points="155.00,327.15 167.30,323.45 179.60,307.20 191.90,319.43 204.20,328.92 216.50,313.96 228.80,319.17 241.10,325.40" fill="none" stroke="#4ee000" stroke-width="0.7" stroke-opacity="0.7"/>
<polyline points="155.00,318.55 167.30,323.44 179.60,316.12 191.90,302.24 204.20,344.14 216.50,328.20 228.80,316.31 241.10,324.05" fill="none" stroke="#4ae000" stroke-width="0.7" stroke-opacity="0.7"/>
<polyline points="155.00,315.03 167.30,305.85 179.60,334.00 191.90,310.11 204.20,333.97 216.50,318.08 228.80,332.28 241.10,333.26" fill="none" stroke="#49e000" stroke-width="0.7" stroke-opacity="0.7"/>
<polyline points="155.00,323.71 167.30,331.59 179.60,301.72 191.90,315.16 204.20,325.53 216.50,320.52 228.80,328.29 241.10,339.57" fill="none" stroke="#49e000" stroke-width="0.7" stroke-opacity="0.7"/>
<polyline points="155.00,317.81 167.30,303.02 179.60,329.02 191.90,314.29 204.20,328.27 216.50,322.58 228.80,328.44 241.10,326.35" fill="none" stroke="#34e000" stroke-width="0.7" stroke-opacity="0.7"/>
<polyline points="155.00,323.52 167.30,323.60 179.60,323.66 191.90,313.77 204.20,324.57 216.50,318.35 228.80,338.59 241.10,319.26" fill="none" stroke="#29e000" stroke-width="0.7" stroke-opacity="0.7"/>
<polyline points="155.00,323.89 167.30,309.16 179.60,328.23 191.90,308.81 204.20,334.50 216.50,325.16 228.80,321.71 241.10,328.80" fill="none" stroke="#27e000" stroke-width="0.7" stroke-opacity="0.7"/>
<polyline points="155.00,317.70 167.30,295.24 179.60,329.03 191.90,310.06 204.20,328.91 216.50,323.44 228.80,337.65 241.10,335.04" fill="none" stroke="#21e000" stroke-width="0.7" stroke-opacity="0.75"/>
<polyline points="155.00,317.20 167.30,328.46 179.60,319.53 191.90,306.32 204.20,349.96 216.50,321.68 228.80,327.84 241.10,332.25" fill="none" stroke="#1fe000" stroke-width="0.7" stroke-opacity="0.7"/>
<polyline points="155.00,318.51 167.30,320.67 179.60,320.19 191.90,307.52 204.20,321.44 216.50,315.56 228.80,353.95 241.10,316.24" fill="none" stroke="#1de000" stroke-width="0.7" stroke-opacity="0.75"/>
<polyline points="155.00,317.29 167.30,293.26 179.60,330.13 191.90,309.75 204.20,331.75 216.50,325.10 228.80,335.37 241.10,331.21" fill="none" stroke="#14e000" stroke-width="0.7" stroke-opacity="0.75"/>
<polyline points="155.00,329.64 167.30,321.12 179.60,322.45 191.90,320.81 204.20,332.66 216.50,327.03 228.80,301.96 241.10,336.44" fill="none" stroke="#12e000" stroke-width="0.7" stroke-opacity="0.7"/>
<polyline points="155.00,322.51 167.30,323.67 179.60,325.23 191.90,312.97 204.20,331.57 216.50,318.13 228.80,306.34 241.10,330.96" fill="none" stroke="#12e000" stroke-width="0.7" stroke-opacity="0.7"/>
<polyline points="155.00,321.15 167.30,332.34 179.60,295.67 191.90,310.96 204.20,333.13 216.50,320.63 228.80,332.32 241.10,338.82" fill="none" stroke="#0de000" stroke-width="0.7" stroke-opacity="0.75"/>
<polyline points="155.00,311.93 167.30,291.45 179.60,331.36 191.90,313.33 204.20,327.81 216.50,323.22 228.80,340.45 241.10,333.38" fill="none" stroke="#00e000" stroke-width="0.7" stroke-opacity="0.75"/>
<polyline points="155.00,323.49 167.30,327.37 179.60,322.07 191.90,326.08 204.20,327.10 216.50,320.99 228.80,321.33 241.10,326.82" fill="none" stroke="#00e000" stroke-width="0.7" stroke-opacity="0.7"/>
<polyline points="155.00,323.29 167.30,321.83 179.60,307.84 191.90,305.02 204.20,330.52 216.50,329.16 228.80,332.33 241.10,328.41" fill="none" stroke="#00e001" stroke-width="0.7" stroke-opacity="0.7"/>
<polyline points="155.00,317.87 167.30,293.13 179.60,328.21 191.90,313.74 204.20,335.36 216.50,317.86 228.80,336.37 241.10,341.52" fill="none" stroke="#00e004" stroke-width="0.7" stroke-opacity="0.7"/>
<polyline points="155.00,318.72 167.30,322.59 179.60,313.68 191.90,307.82 204.20,350.25 216.50,320.42 228.80,318.25 241.10,324.55" fill="none" stroke="#00e00f" stroke-width="0.7" stroke-opacity="0.75"/>
<polyline points="155.00,327.08 167.30,320.01 179.60,327.22 191.90,312.17 204.20,325.07 216.50,344.69 228.80,318.46 241.10,323.04" fill="none" stroke="#00e010" stroke-width="0.7" stroke-opacity="0.7"/>
<polyline points="155.00,314.85 167.30,319.73 179.60,317.96 191.90,303.45 204.20,323.42 216.50,315.19 228.80,359.19 241.10,319.89" fill="none" stroke="#00e011" stroke-width="0.7" stroke-opacity="0.75"/>
<polyline points="155.00,319.13 167.30,317.34 179.60,316.74 191.90,304.29 204.20,347.45 216.50,315.94 228.80,321.40 241.10,324.06" fill="none" stroke="#00e016" stroke-width="0.7" stroke-opacity="0.75"/>
<polyline points="155.00,323.13 167.30,333.23 179.60,294.73 191.90,310.53 204.20,330.41 216.50,318.84 228.80,336.33 241.10,335.70" fill="none" stroke="#00e016" stroke-width="0.7" stroke-opacity="0.75"/>
<polyline points="155.00,314.21 167.30,302.13 179.60,323.73 191.90,307.46 204.20,333.83 216.50,322.66 228.80,324.25 241.10,333.24" fill="none" stroke="#00e018" stroke-width="0.7" stroke-opacity="0.7"/>
<polyline points="155.00,313.27 167.30,318.14 179.60,321.19 191.90,305.75 204.20,320.50 216.50,317.26 228.80,359.96 241.10,319.73" fill="none" stroke="#00e01d" stroke-width="0.7" stroke-opacity="0.75"/>
<polyline points="155.00,314.64 167.30,319.98 179.60,353.23 191.90,303.87 204.20,321.41 216.50,325.65 228.80,325.93 241.10,323.30" fill="none" stroke="#00e023" stroke-width="0.7" stroke-opacity="0.7"/>
<polyline points="155.00,330.78 167.30,317.84 179.60,317.69 191.90,310.70 204.20,328.09 216.50,316.13 228.80,307.65 241.10,331.80" fill="none" stroke="#00e028" stroke-width="0.7" stroke-opacity="0.7"/>
<polyline points="155.00,331.04 167.30,324.95 179.60,323.22 191.90,317.33 204.20,330.60 216.50,328.59 228.80,302.61 241.10,336.54" fill="none" stroke="#00e084" stroke-width="0.7" stroke-opacity="0.7"/>
<polyline points="155.00,322.82 167.30,304.16 179.60,326.17 191.90,310.09 204.20,324.68 216.50,326.76 228.80,333.43 241.10,333.86" fill="none" stroke="#00e085" stroke-width="0.7" stroke-opacity="0.7"/>
<polyline points="155.00,316.47 167.30,332.94 179.60,327.07 191.90,301.45 204.20,323.83 216.50,324.71 228.80,349.25 241.10,323.11" fill="none" stroke="#00e098" stroke-width="0.7" stroke-opacity="0.7"/>
<polyline points="155.00,323.74 167.30,327.41 179.60,321.80 191.90,315.67 204.20,331.47 216.50,323.00 228.80,297.94 241.10,335.25" fill="none" stroke="#00e0ab" stroke-width="0.7" stroke-opacity="0.75"/>
<polyline points="155.00,337.80 167.30,348.29 179.60,309.79 191.90,313.27 204.20,301.60 216.50,321.01 228.80,335.69 241.10,322.17" fill="none" stroke="#00e0ad" stroke-width="0.7" stroke-opacity="0.7"/>
<polyline points="155.00,330.02 167.30,329.93 179.60,334.71 191.90,303.99 204.20,315.60 216.50,298.19 228.80,338.84 241.10,338.32" fill="none" stroke="#00ffd5" stroke-width="0.7" stroke-opacity="0.7"/>
<polyline points="155.00,327.21 167.30,328.55 179.60,325.84 191.90,288.70 204.20,322.79 216.50,324.21 228.80,326.91 241.10,345.40" fill="none" stroke="#00fdff" stroke-width="0.7" stroke-opacity="0.7"/>
<polyline points="155.00,345.13 167.30,316.62 179.60,342.14 191.90,296.22 204.20,317.42 216.50,316.02 228.80,326.10 241.10,329.94" fill="none" stroke="#00f9ff" stroke-width="0.7" stroke-opacity="0.7"/>
<polyline points="155.00,319.37 167.30,326.96 179.60,320.23 191.90,314.12 204.20,335.36 216.50,324.50 228.80,298.12 241.10,334.85" fill="none" stroke="#00eeff" stroke-width="0.7" stroke-opacity="0.75"/>
<polyline points="155.00,358.74 167.30,327.64 179.60,311.83 191.90,313.88 204.20,320.46 216.50,314.11 228.80,330.25 241.10,312.68" fill="none" stroke="#007eff" stroke-width="0.7" stroke-opacity="0.7"/>
<polyline points="155.00,321.88 167.30,319.07 179.60,333.71 191.90,295.61 204.20,323.96 216.50,345.41 228.80,311.60 241.10,338.37" fill="none" stroke="#0078ff" stroke-width="0.7" stroke-opacity="0.7"/>
<polyline points="155.00,316.58 167.30,312.44 179.60,336.54 191.90,307.27 204.20,303.96 216.50,329.57 228.80,347.48 241.10,335.76" fill="none" stroke="#006cff" stroke-width="0.7" stroke-opacity="0.7"/>
<polyline points="155.00,327.47 167.30,325.76 179.60,324.49 191.90,286.45 204.20,337.01 216.50,323.41 228.80,330.46 241.10,334.55" fill="none" stroke="#0069ff" stroke-width="0.7" stroke-opacity="0.7"/>
<polyline points="155.00,331.44 167.30,324.88 179.60,332.55 191.90,289.90 204.20,324.86 216.50,325.81 228.80,316.32 241.10,343.83" fill="none" stroke="#0069ff" stroke-width="0.7" stroke-opacity="0.7"/>
<polyline points="155.00,310.76 167.30,331.43 179.60,323.37 191.90,294.98 204.20,331.07 216.50,348.21 228.80,329.22 241.10,320.55" fill="none" stroke="#0067ff" stroke-width="0.7" stroke-opacity="0.7"/>
<polyline points="155.00,305.38 167.30,328.73 179.60,326.71 191.90,297.84 204.20,335.94 216.50,347.33 228.80,324.31 241.10,323.37" fill="none" stroke="#005cff" stroke-width="0.7" stroke-opacity="0.7"/>
<polyline points="155.00,322.50 167.30,321.66 179.60,317.43 191.90,291.07 204.20,331.40 216.50,342.71 228.80,324.41 241.10,338.42" fill="none" stroke="#005cff" stroke-width="0.7" stroke-opacity="0.7"/>
<polyline points="155.00,330.49 167.30,315.30 179.60,322.95 191.90,293.97 204.20,343.24 216.50,342.17 228.80,318.99 241.10,322.48" fill="none" stroke="#0059ff" stroke-width="0.7" stroke-opacity="0.7"/>
<polyline points="155.00,320.67 167.30,320.53 179.60,340.73 191.90,295.08 204.20,324.89 216.50,355.79 228.80,319.79 241.10,319.91" fill="none" stroke="#0047ff" stroke-width="0.7" stroke-opacity="0.75"/>
<polyline points="155.00,323.23 167.30,322.70 179.60,342.00 191.90,295.11 204.20,319.08 216.50,358.14 228.80,319.72 241.10,320.56" fill="none" stroke="#0046ff" stroke-width="0.7" stroke-opacity="0.75"/>
<polyline points="155.00,334.67 167.30,320.78 179.60,327.27 191.90,293.78 204.20,322.79 216.50,310.35 228.80,339.04 241.10,340.92" fill="none" stroke="#001cff" stroke-width="0.7" stroke-opacity="0.7"/>
<polyline points="155.00,328.80 167.30,309.49 179.60,332.57 191.90,290.01 204.20,330.46 216.50,331.59 228.80,335.75 241.10,330.94" fill="none" stroke="#001bff" stroke-width="0.7" stroke-opacity="0.7"/>
<polyline points="155.00,336.00 167.30,328.64 179.60,326.83 191.90,286.35 204.20,325.96 216.50,331.13 228.80,321.02 241.10,333.67" fill="none" stroke="#0012ff" stroke-width="0.7" stroke-opacity="0.7"/>
<polyline points="155.00,318.30 167.30,324.15 179.60,326.95 191.90,288.16 204.20,336.24 216.50,328.44 228.80,339.40 241.10,327.96" fill="none" stroke="#0012ff" stroke-width="0.7" stroke-opacity="0.7"/>
<polyline points="155.00,335.60 167.30,331.80 179.60,332.83 191.90,286.51 204.20,320.57 216.50,323.74 228.80,330.12 241.10,328.44" fill="none" stroke="#0010ff" stroke-width="0.7" stroke-opacity="0.7"/>
<polyline points="155.00,341.80 167.30,339.10 179.60,332.61 191.90,290.92 204.20,322.19 216.50,320.03 228.80,322.71 241.10,320.24" fill="none" stroke="#000aff" stroke-width="0.7" stroke-opacity="0.7"/>
<polyline points="155.00,322.74 167.30,331.18 179.60,343.53 191.90,289.39 204.20,329.84 216.50,330.14 228.80,317.49 241.10,325.28" fill="none" stroke="#0007ff" stroke-width="0.7" stroke-opacity="0.7"/>
<polyline points="155.00,347.23 167.30,325.61 179.60,317.43 191.90,299.42 204.20,326.22 216.50,334.52 228.80,333.81 241.10,305.37" fill="none" stroke="#0001ff" stroke-width="0.7" stroke-opacity="0.7"/>
<polyline points="155.00,330.34 167.30,331.33 179.60,326.89 191.90,285.87 204.20,333.69 216.50,331.08 228.80,320.46 241.10,329.95" fill="none" stroke="#1100ff" stroke-width="0.7" stroke-opacity="0.7"/>
<polyline points="155.00,323.12 167.30,334.53 179.60,332.88 191.90,286.61 204.20,335.27 216.50,327.34 228.80,328.06 241.10,321.80" fill="none" stroke="#3a00ff" stroke-width="0.7" stroke-opacity="0.7"/>
<polyline points="155.00,329.57 167.30,327.46 179.60,320.50 191.90,286.69 204.20,328.18 216.50,339.32 228.80,328.68 241.10,329.20" fill="none" stroke="#8000ff" stroke-width="0.7" stroke-opacity="0.7"/>
<polyline points="155.00,334.10 167.30,322.89 179.60,329.26 191.90,286.29 204.20,329.99 216.50,323.78 228.80,336.27 241.10,327.02" fill="none" stroke="#8800ff" stroke-width="0.7" stroke-opacity="0.7"/>
<polyline points="155.00,321.44 167.30,334.04 179.60,333.34 191.90,289.06 204.20,334.28 216.50,314.37 228.80,328.28 241.10,334.79" fill="none" stroke="#8d00ff" stroke-width="0.7" stroke-opacity="0.7"/>
<polyline points="155.00,320.46 167.30,328.12 179.60,331.15 191.90,287.04 204.20,326.93 216.50,325.73 228.80,339.80 241.10,330.36" fill="none" stroke="#9b00ff" stroke-width="0.7" stroke-opacity="0.7"/>
<polyline points="155.00,330.06 167.30,336.32 179.60,326.32 191.90,286.41 204.20,320.26 216.50,327.86 228.80,329.06 241.10,333.32" fill="none" stroke="#b900ff" stroke-width="0.7" stroke-opacity="0.7"/>
<polyline points="155.00,330.25 167.30,341.46 179.60,320.52 191.90,287.42 204.20,326.20 216.50,327.65 228.80,329.33 241.10,326.77" fill="none" stroke="#c500ff" stroke-width="0.7" stroke-opacity="0.7"/>
<polyline points="155.00,326.79 167.30,327.49 179.60,338.29 191.90,286.09 204.20,331.75 216.50,327.48 228.80,327.84 241.10,323.86" fill="none" stroke="#d200ff" stroke-width="0.7" stroke-opacity="0.7"/>
<polyline points="155.00,329.75 167.30,332.60 179.60,329.15 191.90,285.62 204.20,330.77 216.50,327.68 228.80,321.38 241.10,332.68" fill="none" stroke="#ff00c6" stroke-width="0.7" stroke-opacity="0.8"/>
<polyline points="155.00,326.29 167.30,332.50 179.60,333.85 191.90,285.14 204.20,328.70 216.50,328.01 228.80,327.91 241.10,327.21" fill="none" stroke="#ff00be" stroke-width="0.7" stroke-opacity="0.8"/>
<polyline points="155.00,330.87 167.30,324.59 179.60,328.16 191.90,285.08 204.20,331.64 216.50,330.66 228.80,327.13 241.10,331.46" fill="none" stroke="#ff00b3" stroke-width="0.7" stroke-opacity="0.8"/>
<polyline points="155.00,328.28 167.30,329.50 179.60,328.26 191.90,284.78 204.20,331.58 216.50,326.81 228.80,329.33 241.10,331.05" fill="none" stroke="#ff00b1" stroke-width="0.7" stroke-opacity="0.8"/>
<polyline points="155.00,332.39 167.30,326.08 179.60,329.24 191.90,285.10 204.20,330.08 216.50,332.35 228.80,328.92 241.10,325.44" fill="none" stroke="#ff00ae" stroke-width="0.7" stroke-opacity="0.8"/>
<polyline points="155.00,327.39 167.30,327.05 179.60,332.03 191.90,284.83 204.20,328.13 216.50,330.20 228.80,330.77 241.10,329.20" fill="none" stroke="#ff00ac" stroke-width="0.7" stroke-opacity="0.8"/>
<polyline points="155.00,334.11 167.30,327.92 179.60,326.26 191.90,285.20 204.20,328.48 216.50,325.74 228.80,330.77 241.10,331.12" fill="none" stroke="#ff009f" stroke-width="0.7" stroke-opacity="0.8"/>
<polyline points="155.00,326.50 167.30,326.32 179.60,327.00 191.90,285.13 204.20,329.05 216.50,332.89 228.80,332.72 241.10,329.99" fill="none" stroke="#ff009c" stroke-width="0.7" stroke-opacity="0.8"/>
<polyline points="155.00,325.96 167.30,327.78 179.60,330.66 191.90,285.04 204.20,329.60 216.50,333.85 228.80,329.10 241.10,327.62" fill="none" stroke="#ff008f" stroke-width="0.7" stroke-opacity="0.8"/>
<polyline points="155.00,330.27 167.30,331.95 179.60,331.04 191.90,285.03 204.20,328.43 216.50,328.76 228.80,324.20 241.10,329.93" fill="none" stroke="#ff008c" stroke-width="0.7" stroke-opacity="0.8"/>
<polyline points="155.00,330.96 167.30,328.27 179.60,324.99 191.90,284.95 204.20,332.10 216.50,330.21 228.80,328.83 241.10,329.29" fill="none" stroke="#ff0080" stroke-width="0.7" stroke-opacity="0.8"/>
<polyline points="155.00,329.56 167.30,330.14 179.60,324.06 191.90,285.24 204.20,334.42 216.50,328.10 228.80,328.19 241.10,329.89" fill="none" stroke="#ff007f" stroke-width="0.7" stroke-opacity="0.8"/>
<polyline points="155.00,327.86 167.30,323.97 179.60,331.26 191.90,285.13 204.20,331.46 216.50,328.10 228.80,329.90 241.10,331.91" fill="none" stroke="#ff007b" stroke-width="0.7" stroke-opacity="0.8"/>
<polyline points="155.00,328.56 167.30,320.50 179.60,326.06 191.90,286.07 204.20,333.49 216.50,329.81 228.80,331.48 241.10,333.63" fill="none" stroke="#ff0071" stroke-width="0.7" stroke-opacity="0.8"/>
<polyline points="155.00,332.73 167.30,330.44 179.60,330.95 191.90,285.19 204.20,326.69 216.50,324.02 228.80,328.88 241.10,330.70" fill="none" stroke="#ff006f" stroke-width="0.7" stroke-opacity="0.8"/>
<polyline points="155.00,324.76 167.30,326.80 179.60,328.46 191.90,285.47 204.20,326.78 216.50,331.25 228.80,335.41 241.10,330.67" fill="none" stroke="#ff006b" stroke-width="0.7" stroke-opacity="0.8"/>
</g>
<line x1="154.50" y1="365.30" x2="241.60" y2="365.30" stroke="#1a1a1a" stroke-width="1.2"/>
<line x1="155.00" y1="365.30" x2="155.00" y2="368.30" stroke="#1a1a1a" stroke-width="1.1"/>
<line x1="167.30" y1="365.30" x2="167.30" y2="368.30" stroke="#1a1a1a" stroke-width="1.1"/>
<line x1="179.60" y1="365.30" x2="179.60" y2="368.30" stroke="#1a1a1a" stroke-width="1.1"/>
<line x1="191.90" y1="365.30" x2="191.90" y2="368.30" stroke="#1a1a1a" stroke-width="1.1"/>
<line x1="204.20" y1="365.30" x2="204.20" y2="368.30" stroke="#1a1a1a" stroke-width="1.1"/>
<line x1="216.50" y1="365.30" x2="216.50" y2="368.30" stroke="#1a1a1a" stroke-width="1.1"/>
<line x1="228.80" y1="365.30" x2="228.80" y2="368.30" stroke="#1a1a1a" stroke-width="1.1"/>
<line x1="241.10" y1="365.30" x2="241.10" y2="368.30" stroke="#1a1a1a" stroke-width="1.1"/>
<text transform="translate(159.00,372.50) rotate(-45) scale(0.9,1)" font-size="9.4" text-anchor="end" fill="#111" stroke="#000" stroke-width="0.2" font-family="Liberation Serif">APDS_2h</text>
<text transform="translate(171.30,372.50) rotate(-45) scale(0.9,1)" font-size="9.4" text-anchor="end" fill="#111" stroke="#000" stroke-width="0.2" font-family="Liberation Serif">APDS_6h</text>
<text transform="translate(183.60,372.50) rotate(-45) scale(0.9,1)" font-size="9.4" text-anchor="end" fill="#111" stroke="#000" stroke-width="0.2" font-family="Liberation Serif">APDS_12h</text>
<text transform="translate(195.90,372.50) rotate(-45) scale(0.9,1)" font-size="9.4" text-anchor="end" fill="#111" stroke="#000" stroke-width="0.2" font-family="Liberation Serif">APDS_24h</text>
<text transform="translate(208.20,372.50) rotate(-45) scale(0.9,1)" font-size="9.4" text-anchor="end" fill="#111" stroke="#000" stroke-width="0.2" font-family="Liberation Serif">UPDS_2h</text>
<text transform="translate(220.50,372.50) rotate(-45) scale(0.9,1)" font-size="9.4" text-anchor="end" fill="#111" stroke="#000" stroke-width="0.2" font-family="Liberation Serif">UPDS_6h</text>
<text transform="translate(232.80,372.50) rotate(-45) scale(0.9,1)" font-size="9.4" text-anchor="end" fill="#111" stroke="#000" stroke-width="0.2" font-family="Liberation Serif">UPDS_12h</text>
<text transform="translate(245.10,372.50) rotate(-45) scale(0.9,1)" font-size="9.4" text-anchor="end" fill="#111" stroke="#000" stroke-width="0.2" font-family="Liberation Serif">UPDS_24h</text>
<text x="322.00" y="281.30" font-size="8.8" text-anchor="middle" fill="#000" font-weight="normal" font-family="Liberation Serif" stroke="#000" stroke-width="0.22" xml:space="preserve">Cluster 6  81</text>
<line x1="278.60" y1="291.70" x2="278.60" y2="355.90" stroke="#1a1a1a" stroke-width="1.2"/>
<line x1="274.00" y1="292.20" x2="278.60" y2="292.20" stroke="#1a1a1a" stroke-width="1.2"/>
<line x1="274.00" y1="308.00" x2="278.60" y2="308.00" stroke="#1a1a1a" stroke-width="1.2"/>
<line x1="274.00" y1="323.80" x2="278.60" y2="323.80" stroke="#1a1a1a" stroke-width="1.2"/>
<line x1="274.00" y1="339.60" x2="278.60" y2="339.60" stroke="#1a1a1a" stroke-width="1.2"/>
<line x1="274.00" y1="355.40" x2="278.60" y2="355.40" stroke="#1a1a1a" stroke-width="1.2"/>
<g>
<polyline points="281.50,323.37 293.85,322.84 306.20,317.27 318.55,319.70 330.90,307.29 343.25,317.05 355.60,316.88 367.95,354.08" fill="none" stroke="#a1ff00" stroke-width="0.7" stroke-opacity="0.75"/>
<polyline points="281.50,321.72 293.85,323.31 306.20,317.50 318.55,319.67 330.90,308.81 343.25,315.03 355.60,317.10 367.95,352.46" fill="none" stroke="#8dff00" stroke-width="0.7" stroke-opacity="0.75"/>
<polyline points="281.50,329.71 293.85,318.89 306.20,307.08 318.55,354.33 330.90,298.36 343.25,325.40 355.60,329.08 367.95,313.68" fill="none" stroke="#85ff00" stroke-width="0.7" stroke-opacity="0.7"/>
<polyline points="281.50,327.11 293.85,319.56 306.20,318.61 318.55,352.13 330.90,304.88 343.25,322.86 355.60,322.10 367.95,322.89" fill="none" stroke="#6ce000" stroke-width="0.7" stroke-opacity="0.7"/>
<polyline points="281.50,324.06 293.85,322.16 306.20,328.82 318.55,320.84 330.90,314.67 343.25,333.55 355.60,335.38 367.95,296.84" fill="none" stroke="#6ae000" stroke-width="0.7" stroke-opacity="0.7"/>
<polyline points="281.50,325.28 293.85,324.90 306.20,326.36 318.55,319.41 330.90,307.21 343.25,352.57 355.60,318.04 367.95,324.74" fill="none" stroke="#56e000" stroke-width="0.7" stroke-opacity="0.7"/>
<polyline points="281.50,321.75 293.85,311.10 306.20,323.62 318.55,329.67 330.90,313.00 343.25,336.45 355.60,325.14 367.95,323.97" fill="none" stroke="#4ee000" stroke-width="0.7" stroke-opacity="0.7"/>
<polyline points="281.50,325.60 293.85,336.71 306.20,316.71 318.55,329.96 330.90,317.09 343.25,322.77 355.60,325.26 367.95,317.18" fill="none" stroke="#4ce000" stroke-width="0.7" stroke-opacity="0.7"/>
<polyline points="281.50,330.95 293.85,327.15 306.20,325.85 318.55,322.63 330.90,310.47 343.25,339.14 355.60,336.08 367.95,311.41" fill="none" stroke="#43e000" stroke-width="0.7" stroke-opacity="0.7"/>
<polyline points="281.50,325.42 293.85,307.64 306.20,338.56 318.55,317.61 330.90,298.31 343.25,340.89 355.60,318.96 367.95,325.73" fill="none" stroke="#3de000" stroke-width="0.7" stroke-opacity="0.7"/>
<polyline points="281.50,324.80 293.85,331.45 306.20,325.73 318.55,324.40 330.90,295.66 343.25,325.14 355.60,319.32 367.95,321.69" fill="none" stroke="#3be000" stroke-width="0.7" stroke-opacity="0.7"/>
<polyline points="281.50,329.07 293.85,322.25 306.20,328.70 318.55,318.97 330.90,313.20 343.25,326.96 355.60,334.14 367.95,295.64" fill="none" stroke="#20e000" stroke-width="0.7" stroke-opacity="0.75"/>
<polyline points="281.50,318.22 293.85,342.38 306.20,327.27 318.55,324.36 330.90,306.36 343.25,325.15 355.60,326.01 367.95,319.70" fill="none" stroke="#18e000" stroke-width="0.7" stroke-opacity="0.7"/>
<polyline points="281.50,317.48 293.85,318.19 306.20,316.94 318.55,356.77 330.90,306.97 343.25,321.06 355.60,326.06 367.95,318.69" fill="none" stroke="#17e000" stroke-width="0.7" stroke-opacity="0.75"/>
<polyline points="281.50,324.40 293.85,320.99 306.20,328.45 318.55,318.83 330.90,314.63 343.25,329.82 355.60,330.86 367.95,295.93" fill="none" stroke="#12e000" stroke-width="0.7" stroke-opacity="0.75"/>
<polyline points="281.50,326.70 293.85,319.36 306.20,325.58 318.55,321.70 330.90,305.96 343.25,352.32 355.60,312.97 367.95,321.84" fill="none" stroke="#11e000" stroke-width="0.7" stroke-opacity="0.75"/>
<polyline points="281.50,320.04 293.85,317.84 306.20,315.88 318.55,363.08 330.90,304.17 343.25,318.17 355.60,321.82 367.95,321.24" fill="none" stroke="#11e000" stroke-width="0.7" stroke-opacity="0.75"/>
<polyline points="281.50,313.97 293.85,319.60 306.20,319.82 318.55,313.87 330.90,313.95 343.25,314.60 355.60,312.32 367.95,344.68" fill="none" stroke="#0ce000" stroke-width="0.7" stroke-opacity="0.7"/>
<polyline points="281.50,349.62 293.85,313.39 306.20,323.50 318.55,311.70 330.90,313.54 343.25,320.79 355.60,318.70 367.95,320.12" fill="none" stroke="#08e000" stroke-width="0.7" stroke-opacity="0.75"/>
<polyline points="281.50,321.22 293.85,320.51 306.20,321.40 318.55,320.00 330.90,304.51 343.25,340.76 355.60,319.81 367.95,326.30" fill="none" stroke="#01e000" stroke-width="0.7" stroke-opacity="0.7"/>
<polyline points="281.50,349.11 293.85,324.90 306.20,317.54 318.55,309.13 330.90,305.10 343.25,316.64 355.60,315.11 367.95,316.57" fill="none" stroke="#01e000" stroke-width="0.7" stroke-opacity="0.7"/>
<polyline points="281.50,312.47 293.85,356.77 306.20,315.72 318.55,325.11 330.90,306.98 343.25,318.58 355.60,321.93 367.95,326.35" fill="none" stroke="#00e009" stroke-width="0.7" stroke-opacity="0.75"/>
<polyline points="281.50,319.46 293.85,357.43 306.20,318.41 318.55,319.16 330.90,309.11 343.25,318.37 355.60,318.35 367.95,323.57" fill="none" stroke="#00e00b" stroke-width="0.7" stroke-opacity="0.75"/>
<polyline points="281.50,346.36 293.85,325.08 306.20,330.04 318.55,315.08 330.90,314.62 343.25,326.88 355.60,318.00 367.95,319.20" fill="none" stroke="#00e00b" stroke-width="0.7" stroke-opacity="0.7"/>
<polyline points="281.50,320.03 293.85,320.41 306.20,316.47 318.55,358.85 330.90,307.29 343.25,318.20 355.60,324.73 367.95,316.06" fill="none" stroke="#00e019" stroke-width="0.7" stroke-opacity="0.75"/>
<polyline points="281.50,321.31 293.85,323.96 306.20,319.78 318.55,334.01 330.90,316.77 343.25,326.34 355.60,304.13 367.95,335.22" fill="none" stroke="#00e01c" stroke-width="0.7" stroke-opacity="0.7"/>
<polyline points="281.50,315.63 293.85,315.96 306.20,330.85 318.55,350.01 330.90,301.83 343.25,316.98 355.60,325.55 367.95,329.54" fill="none" stroke="#00e01f" stroke-width="0.7" stroke-opacity="0.7"/>
<polyline points="281.50,319.60 293.85,316.31 306.20,323.05 318.55,316.50 330.90,303.70 343.25,360.65 355.60,320.01 367.95,321.84" fill="none" stroke="#00e022" stroke-width="0.7" stroke-opacity="0.75"/>
<polyline points="281.50,342.43 293.85,320.02 306.20,320.46 318.55,321.08 330.90,313.94 343.25,324.62 355.60,317.55 367.95,323.20" fill="none" stroke="#00e024" stroke-width="0.7" stroke-opacity="0.7"/>
<polyline points="281.50,318.00 293.85,319.16 306.20,332.47 318.55,322.08 330.90,298.16 343.25,353.06 355.60,312.39 367.95,314.51" fill="none" stroke="#00e041" stroke-width="0.7" stroke-opacity="0.7"/>
<polyline points="281.50,343.63 293.85,313.35 306.20,322.66 318.55,324.70 330.90,313.86 343.25,323.83 355.60,325.58 367.95,323.07" fill="none" stroke="#00e05c" stroke-width="0.7" stroke-opacity="0.7"/>
<polyline points="281.50,320.21 293.85,320.67 306.20,318.36 318.55,332.16 330.90,316.62 343.25,325.99 355.60,318.76 367.95,348.98" fill="none" stroke="#00e061" stroke-width="0.7" stroke-opacity="0.7"/>
<polyline points="281.50,328.19 293.85,329.67 306.20,314.37 318.55,324.77 330.90,310.24 343.25,333.43 355.60,299.91 367.95,324.73" fill="none" stroke="#00e071" stroke-width="0.7" stroke-opacity="0.7"/>
<polyline points="281.50,314.86 293.85,328.69 306.20,320.04 318.55,346.79 330.90,309.01 343.25,325.56 355.60,320.26 367.95,318.04" fill="none" stroke="#00e082" stroke-width="0.7" stroke-opacity="0.7"/>
<polyline points="281.50,318.52 293.85,316.65 306.20,314.36 318.55,360.50 330.90,304.72 343.25,318.36 355.60,330.80 367.95,317.74" fill="none" stroke="#00e082" stroke-width="0.7" stroke-opacity="0.7"/>
<polyline points="281.50,321.68 293.85,302.68 306.20,341.77 318.55,323.75 330.90,305.21 343.25,328.72 355.60,323.64 367.95,333.93" fill="none" stroke="#00e089" stroke-width="0.7" stroke-opacity="0.7"/>
<polyline points="281.50,335.80 293.85,347.22 306.20,331.06 318.55,306.31 330.90,301.69 343.25,314.79 355.60,319.40 367.95,334.14" fill="none" stroke="#00e0ae" stroke-width="0.7" stroke-opacity="0.7"/>
<polyline points="281.50,323.86 293.85,323.68 306.20,321.21 318.55,333.63 330.90,307.81 343.25,327.87 355.60,299.15 367.95,340.54" fill="none" stroke="#00e0b2" stroke-width="0.7" stroke-opacity="0.75"/>
<polyline points="281.50,325.84 293.85,324.10 306.20,318.12 318.55,330.97 330.90,307.51 343.25,326.42 355.60,295.72 367.95,333.87" fill="none" stroke="#00ffd6" stroke-width="0.7" stroke-opacity="0.75"/>
<polyline points="281.50,333.05 293.85,328.11 306.20,325.72 318.55,333.08 330.90,288.68 343.25,319.47 355.60,321.30 367.95,340.98" fill="none" stroke="#00fffc" stroke-width="0.7" stroke-opacity="0.7"/>
<polyline points="281.50,337.87 293.85,316.61 306.20,337.88 318.55,328.03 330.90,290.68 343.25,316.46 355.60,328.75 367.95,334.11" fill="none" stroke="#00f6ff" stroke-width="0.7" stroke-opacity="0.7"/>
<polyline points="281.50,320.42 293.85,338.38 306.20,336.46 318.55,332.01 330.90,291.08 343.25,313.73 355.60,334.93 367.95,323.39" fill="none" stroke="#00d4ff" stroke-width="0.7" stroke-opacity="0.7"/>
<polyline points="281.50,321.26 293.85,343.54 306.20,320.94 318.55,338.55 330.90,292.07 343.25,330.54 355.60,327.47 367.95,316.04" fill="none" stroke="#00c3ff" stroke-width="0.7" stroke-opacity="0.7"/>
<polyline points="281.50,332.48 293.85,322.33 306.20,325.19 318.55,342.77 330.90,293.41 343.25,330.51 355.60,334.74 367.95,308.97" fill="none" stroke="#00b9ff" stroke-width="0.7" stroke-opacity="0.7"/>
<polyline points="281.50,345.55 293.85,327.31 306.20,322.85 318.55,332.34 330.90,289.63 343.25,325.79 355.60,326.36 367.95,320.58" fill="none" stroke="#00a6ff" stroke-width="0.7" stroke-opacity="0.7"/>
<polyline points="281.50,328.10 293.85,329.04 306.20,327.17 318.55,325.87 330.90,285.46 343.25,326.89 355.60,333.38 367.95,334.48" fill="none" stroke="#0063ff" stroke-width="0.7" stroke-opacity="0.7"/>
<polyline points="281.50,322.87 293.85,320.29 306.20,332.57 318.55,322.58 330.90,288.28 343.25,330.26 355.60,339.59 367.95,333.96" fill="none" stroke="#0063ff" stroke-width="0.7" stroke-opacity="0.7"/>
<polyline points="281.50,328.01 293.85,318.80 306.20,330.44 318.55,322.38 330.90,291.18 343.25,332.12 355.60,320.93 367.95,346.54" fill="none" stroke="#0054ff" stroke-width="0.7" stroke-opacity="0.7"/>
<polyline points="281.50,330.88 293.85,335.23 306.20,325.41 318.55,322.91 330.90,286.61 343.25,328.95 355.60,336.19 367.95,324.21" fill="none" stroke="#004cff" stroke-width="0.7" stroke-opacity="0.7"/>
<polyline points="281.50,350.83 293.85,338.56 306.20,316.77 318.55,325.17 330.90,298.65 343.25,313.51 355.60,321.33 367.95,325.57" fill="none" stroke="#0047ff" stroke-width="0.7" stroke-opacity="0.7"/>
<polyline points="281.50,339.66 293.85,332.40 306.20,317.11 318.55,327.75 330.90,291.22 343.25,314.81 355.60,337.06 367.95,330.38" fill="none" stroke="#0045ff" stroke-width="0.7" stroke-opacity="0.7"/>
<polyline points="281.50,308.60 293.85,328.71 306.20,327.73 318.55,330.92 330.90,298.08 343.25,313.28 355.60,338.01 367.95,345.07" fill="none" stroke="#0041ff" stroke-width="0.7" stroke-opacity="0.7"/>
<polyline points="281.50,330.83 293.85,310.40 306.20,333.29 318.55,328.93 330.90,290.79 343.25,334.51 355.60,337.86 367.95,323.79" fill="none" stroke="#0035ff" stroke-width="0.7" stroke-opacity="0.7"/>
<polyline points="281.50,323.47 293.85,334.70 306.20,333.53 318.55,333.49 330.90,296.82 343.25,323.64 355.60,341.18 367.95,303.56" fill="none" stroke="#0700ff" stroke-width="0.7" stroke-opacity="0.7"/>
<polyline points="281.50,329.83 293.85,325.55 306.20,315.85 318.55,330.63 330.90,289.40 343.25,327.00 355.60,328.88 367.95,343.27" fill="none" stroke="#2100ff" stroke-width="0.7" stroke-opacity="0.7"/>
<polyline points="281.50,328.19 293.85,326.48 306.20,328.48 318.55,326.69 330.90,285.38 343.25,332.41 355.60,334.96 367.95,327.80" fill="none" stroke="#3200ff" stroke-width="0.7" stroke-opacity="0.7"/>
<polyline points="281.50,329.68 293.85,325.18 306.20,340.81 318.55,331.99 330.90,288.12 343.25,331.99 355.60,322.21 367.95,320.41" fill="none" stroke="#4600ff" stroke-width="0.7" stroke-opacity="0.7"/>
<polyline points="281.50,331.22 293.85,327.82 306.20,336.35 318.55,321.62 330.90,289.77 343.25,323.52 355.60,318.28 367.95,341.83" fill="none" stroke="#5500ff" stroke-width="0.7" stroke-opacity="0.7"/>
<polyline points="281.50,318.14 293.85,297.47 306.20,337.75 318.55,324.13 330.90,302.44 343.25,330.08 355.60,322.25 367.95,326.57" fill="none" stroke="#5900ff" stroke-width="0.7" stroke-opacity="0.75"/>
<polyline points="281.50,325.03 293.85,324.68 306.20,334.26 318.55,332.83 330.90,288.80 343.25,325.92 355.60,318.02 367.95,340.87" fill="none" stroke="#7400ff" stroke-width="0.7" stroke-opacity="0.7"/>
<polyline points="281.50,319.33 293.85,301.26 306.20,334.25 318.55,325.81 330.90,303.94 343.25,334.66 355.60,320.79 367.95,327.06" fill="none" stroke="#7900ff" stroke-width="0.7" stroke-opacity="0.75"/>
<polyline points="281.50,327.52 293.85,333.13 306.20,328.03 318.55,319.26 330.90,287.03 343.25,325.50 355.60,333.57 367.95,336.36" fill="none" stroke="#a800ff" stroke-width="0.7" stroke-opacity="0.7"/>
<polyline points="281.50,324.43 293.85,327.24 306.20,338.71 318.55,327.77 330.90,286.21 343.25,329.44 355.60,325.92 367.95,330.69" fill="none" stroke="#ce00ff" stroke-width="0.7" stroke-opacity="0.7"/>
<polyline points="281.50,333.81 293.85,325.64 306.20,330.19 318.55,328.50 330.90,285.65 343.25,324.57 355.60,334.22 367.95,327.81" fill="none" stroke="#ff00f5" stroke-width="0.7" stroke-opacity="0.7"/>
<polyline points="281.50,332.20 293.85,332.39 306.20,327.58 318.55,332.57 330.90,285.46 343.25,324.30 355.60,329.88 367.95,326.02" fill="none" stroke="#ff00e5" stroke-width="0.7" stroke-opacity="0.7"/>
<polyline points="281.50,329.30 293.85,326.48 306.20,335.19 318.55,330.45 330.90,285.71 343.25,329.67 355.60,330.83 367.95,322.78" fill="none" stroke="#ff00d1" stroke-width="0.7" stroke-opacity="0.7"/>
<polyline points="281.50,328.27 293.85,329.63 306.20,329.66 318.55,329.00 330.90,284.80 343.25,331.87 355.60,328.29 367.95,328.89" fill="none" stroke="#ff00b1" stroke-width="0.7" stroke-opacity="0.7"/>
<polyline points="281.50,328.77 293.85,325.73 306.20,332.11 318.55,329.58 330.90,285.04 343.25,329.99 355.60,331.70 367.95,327.48" fill="none" stroke="#ff0097" stroke-width="0.7" stroke-opacity="0.8"/>
<polyline points="281.50,331.49 293.85,328.05 306.20,329.71 318.55,333.62 330.90,285.18 343.25,326.79 355.60,329.58 367.95,325.99" fill="none" stroke="#ff008d" stroke-width="0.7" stroke-opacity="0.8"/>
<polyline points="281.50,329.56 293.85,330.15 306.20,328.50 318.55,330.73 330.90,285.04 343.25,326.63 355.60,332.99 367.95,326.79" fill="none" stroke="#ff008b" stroke-width="0.7" stroke-opacity="0.8"/>
<polyline points="281.50,331.99 293.85,326.68 306.20,328.41 318.55,331.72 330.90,285.16 343.25,330.22 355.60,325.24 367.95,330.98" fill="none" stroke="#ff0078" stroke-width="0.7" stroke-opacity="0.8"/>
<polyline points="281.50,333.05 293.85,330.69 306.20,322.15 318.55,332.82 330.90,285.78 343.25,328.21 355.60,326.13 367.95,331.56" fill="none" stroke="#ff006d" stroke-width="0.7" stroke-opacity="0.8"/>
<polyline points="281.50,327.98 293.85,327.25 306.20,332.18 318.55,326.04 330.90,285.18 343.25,329.27 355.60,333.54 367.95,328.96" fill="none" stroke="#ff006a" stroke-width="0.7" stroke-opacity="0.8"/>
<polyline points="281.50,328.13 293.85,330.43 306.20,329.45 318.55,327.70 330.90,284.89 343.25,332.44 355.60,329.48 367.95,327.89" fill="none" stroke="#ff0068" stroke-width="0.7" stroke-opacity="0.8"/>
<polyline points="281.50,332.32 293.85,328.02 306.20,329.83 318.55,327.20 330.90,284.90 343.25,330.63 355.60,328.94 367.95,328.58" fill="none" stroke="#ff0066" stroke-width="0.7" stroke-opacity="0.8"/>
<polyline points="281.50,330.60 293.85,325.77 306.20,329.63 318.55,327.76 330.90,285.18 343.25,329.76 355.60,327.58 367.95,334.12" fill="none" stroke="#ff0064" stroke-width="0.7" stroke-opacity="0.8"/>
<polyline points="281.50,327.79 293.85,328.36 306.20,330.00 318.55,330.56 330.90,285.04 343.25,332.72 355.60,325.73 367.95,330.19" fill="none" stroke="#ff0060" stroke-width="0.7" stroke-opacity="0.8"/>
<polyline points="281.50,332.35 293.85,327.33 306.20,327.61 318.55,327.17 330.90,285.25 343.25,334.24 355.60,327.21 367.95,329.24" fill="none" stroke="#ff0051" stroke-width="0.7" stroke-opacity="0.8"/>
<polyline points="281.50,329.95 293.85,328.90 306.20,326.96 318.55,325.67 330.90,285.38 343.25,331.32 355.60,327.18 367.95,335.04" fill="none" stroke="#ff0050" stroke-width="0.7" stroke-opacity="0.8"/>
<polyline points="281.50,328.68 293.85,326.46 306.20,328.53 318.55,327.01 330.90,285.13 343.25,334.00 355.60,330.35 367.95,330.24" fill="none" stroke="#ff0048" stroke-width="0.7" stroke-opacity="0.8"/>
<polyline points="281.50,326.97 293.85,332.27 306.20,327.39 318.55,334.09 330.90,285.48 343.25,331.78 355.60,324.99 367.95,327.42" fill="none" stroke="#ff0047" stroke-width="0.7" stroke-opacity="0.8"/>
</g>
<line x1="281.00" y1="365.20" x2="368.45" y2="365.20" stroke="#1a1a1a" stroke-width="1.2"/>
<line x1="281.50" y1="365.20" x2="281.50" y2="368.20" stroke="#1a1a1a" stroke-width="1.1"/>
<line x1="293.85" y1="365.20" x2="293.85" y2="368.20" stroke="#1a1a1a" stroke-width="1.1"/>
<line x1="306.20" y1="365.20" x2="306.20" y2="368.20" stroke="#1a1a1a" stroke-width="1.1"/>
<line x1="318.55" y1="365.20" x2="318.55" y2="368.20" stroke="#1a1a1a" stroke-width="1.1"/>
<line x1="330.90" y1="365.20" x2="330.90" y2="368.20" stroke="#1a1a1a" stroke-width="1.1"/>
<line x1="343.25" y1="365.20" x2="343.25" y2="368.20" stroke="#1a1a1a" stroke-width="1.1"/>
<line x1="355.60" y1="365.20" x2="355.60" y2="368.20" stroke="#1a1a1a" stroke-width="1.1"/>
<line x1="367.95" y1="365.20" x2="367.95" y2="368.20" stroke="#1a1a1a" stroke-width="1.1"/>
<text transform="translate(285.50,372.40) rotate(-45) scale(0.9,1)" font-size="9.4" text-anchor="end" fill="#111" stroke="#000" stroke-width="0.2" font-family="Liberation Serif">APDS_2h</text>
<text transform="translate(297.85,372.40) rotate(-45) scale(0.9,1)" font-size="9.4" text-anchor="end" fill="#111" stroke="#000" stroke-width="0.2" font-family="Liberation Serif">APDS_6h</text>
<text transform="translate(310.20,372.40) rotate(-45) scale(0.9,1)" font-size="9.4" text-anchor="end" fill="#111" stroke="#000" stroke-width="0.2" font-family="Liberation Serif">APDS_12h</text>
<text transform="translate(322.55,372.40) rotate(-45) scale(0.9,1)" font-size="9.4" text-anchor="end" fill="#111" stroke="#000" stroke-width="0.2" font-family="Liberation Serif">APDS_24h</text>
<text transform="translate(334.90,372.40) rotate(-45) scale(0.9,1)" font-size="9.4" text-anchor="end" fill="#111" stroke="#000" stroke-width="0.2" font-family="Liberation Serif">UPDS_2h</text>
<text transform="translate(347.25,372.40) rotate(-45) scale(0.9,1)" font-size="9.4" text-anchor="end" fill="#111" stroke="#000" stroke-width="0.2" font-family="Liberation Serif">UPDS_6h</text>
<text transform="translate(359.60,372.40) rotate(-45) scale(0.9,1)" font-size="9.4" text-anchor="end" fill="#111" stroke="#000" stroke-width="0.2" font-family="Liberation Serif">UPDS_12h</text>
<text transform="translate(371.95,372.40) rotate(-45) scale(0.9,1)" font-size="9.4" text-anchor="end" fill="#111" stroke="#000" stroke-width="0.2" font-family="Liberation Serif">UPDS_24h</text>
<text x="7.50" y="219.20" font-size="9.25" text-anchor="middle" fill="#111" font-weight="normal" font-family="Liberation Serif" stroke="#000" stroke-width="0.18" transform="rotate(-90 7.5 219.2)">Normalized IEP changes</text>
<text x="7.50" y="322.00" font-size="9.25" text-anchor="middle" fill="#111" font-weight="normal" font-family="Liberation Serif" stroke="#000" stroke-width="0.18" transform="rotate(-90 7.5 322.0)">Normalized IEP changes</text></svg>
</body></html>
